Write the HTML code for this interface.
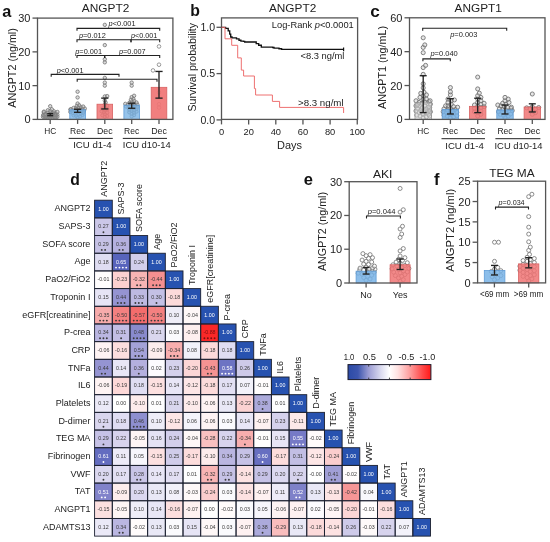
<!DOCTYPE html>
<html><head><meta charset="utf-8"><style>
html,body{margin:0;padding:0;background:#fff;}
svg{display:block;font-family:"Liberation Sans", sans-serif;filter:blur(0.3px);}
</style></head><body>
<svg width="550" height="542" viewBox="0 0 550 542">
<rect width="550" height="542" fill="#fff"/>
<text x="2.20" y="16.50" font-size="16.3" text-anchor="start" fill="#111" font-weight="bold">a</text>
<text x="105.60" y="12.40" font-size="11.2" text-anchor="middle" fill="#222" textLength="47.5" lengthAdjust="spacingAndGlyphs">ANGPT2</text>
<text x="16.20" y="67.90" font-size="10.2" text-anchor="middle" fill="#222" textLength="79.5" lengthAdjust="spacingAndGlyphs" transform="rotate(-90 16.20 67.90)">ANGPT2 (ng/ml)</text>
<circle cx="50.20" cy="118.05" r="1.7" fill="#b0b0b0" fill-opacity="0.45" stroke="#7a7a7a" stroke-width="0.85"/>
<circle cx="52.60" cy="117.71" r="1.7" fill="#b0b0b0" fill-opacity="0.45" stroke="#7a7a7a" stroke-width="0.85"/>
<circle cx="47.80" cy="117.37" r="1.7" fill="#b0b0b0" fill-opacity="0.45" stroke="#7a7a7a" stroke-width="0.85"/>
<circle cx="55.00" cy="117.37" r="1.7" fill="#b0b0b0" fill-opacity="0.45" stroke="#7a7a7a" stroke-width="0.85"/>
<circle cx="45.40" cy="117.04" r="1.7" fill="#b0b0b0" fill-opacity="0.45" stroke="#7a7a7a" stroke-width="0.85"/>
<circle cx="57.40" cy="116.70" r="1.7" fill="#b0b0b0" fill-opacity="0.45" stroke="#7a7a7a" stroke-width="0.85"/>
<circle cx="43.00" cy="116.70" r="1.7" fill="#b0b0b0" fill-opacity="0.45" stroke="#7a7a7a" stroke-width="0.85"/>
<circle cx="46.43" cy="116.36" r="1.7" fill="#b0b0b0" fill-opacity="0.45" stroke="#7a7a7a" stroke-width="0.85"/>
<circle cx="51.00" cy="116.02" r="1.7" fill="#b0b0b0" fill-opacity="0.45" stroke="#7a7a7a" stroke-width="0.85"/>
<circle cx="50.84" cy="116.02" r="1.7" fill="#b0b0b0" fill-opacity="0.45" stroke="#7a7a7a" stroke-width="0.85"/>
<circle cx="48.33" cy="116.02" r="1.7" fill="#b0b0b0" fill-opacity="0.45" stroke="#7a7a7a" stroke-width="0.85"/>
<circle cx="53.40" cy="115.69" r="1.7" fill="#b0b0b0" fill-opacity="0.45" stroke="#7a7a7a" stroke-width="0.85"/>
<circle cx="51.70" cy="115.69" r="1.7" fill="#b0b0b0" fill-opacity="0.45" stroke="#7a7a7a" stroke-width="0.85"/>
<circle cx="52.01" cy="115.35" r="1.7" fill="#b0b0b0" fill-opacity="0.45" stroke="#7a7a7a" stroke-width="0.85"/>
<circle cx="43.94" cy="115.35" r="1.7" fill="#b0b0b0" fill-opacity="0.45" stroke="#7a7a7a" stroke-width="0.85"/>
<circle cx="55.80" cy="115.01" r="1.7" fill="#b0b0b0" fill-opacity="0.45" stroke="#7a7a7a" stroke-width="0.85"/>
<circle cx="43.19" cy="115.01" r="1.7" fill="#b0b0b0" fill-opacity="0.45" stroke="#7a7a7a" stroke-width="0.85"/>
<circle cx="55.06" cy="115.01" r="1.7" fill="#b0b0b0" fill-opacity="0.45" stroke="#7a7a7a" stroke-width="0.85"/>
<circle cx="46.73" cy="114.67" r="1.7" fill="#b0b0b0" fill-opacity="0.45" stroke="#7a7a7a" stroke-width="0.85"/>
<circle cx="46.37" cy="114.67" r="1.7" fill="#b0b0b0" fill-opacity="0.45" stroke="#7a7a7a" stroke-width="0.85"/>
<circle cx="57.34" cy="114.67" r="1.7" fill="#b0b0b0" fill-opacity="0.45" stroke="#7a7a7a" stroke-width="0.85"/>
<circle cx="49.77" cy="114.34" r="1.7" fill="#b0b0b0" fill-opacity="0.45" stroke="#7a7a7a" stroke-width="0.85"/>
<circle cx="55.05" cy="114.34" r="1.7" fill="#b0b0b0" fill-opacity="0.45" stroke="#7a7a7a" stroke-width="0.85"/>
<circle cx="49.86" cy="114.00" r="1.7" fill="#b0b0b0" fill-opacity="0.45" stroke="#7a7a7a" stroke-width="0.85"/>
<circle cx="52.20" cy="114.00" r="1.7" fill="#b0b0b0" fill-opacity="0.45" stroke="#7a7a7a" stroke-width="0.85"/>
<circle cx="45.17" cy="114.00" r="1.7" fill="#b0b0b0" fill-opacity="0.45" stroke="#7a7a7a" stroke-width="0.85"/>
<circle cx="52.14" cy="113.66" r="1.7" fill="#b0b0b0" fill-opacity="0.45" stroke="#7a7a7a" stroke-width="0.85"/>
<circle cx="55.50" cy="113.32" r="1.7" fill="#b0b0b0" fill-opacity="0.45" stroke="#7a7a7a" stroke-width="0.85"/>
<circle cx="50.53" cy="113.32" r="1.7" fill="#b0b0b0" fill-opacity="0.45" stroke="#7a7a7a" stroke-width="0.85"/>
<circle cx="53.67" cy="112.98" r="1.7" fill="#b0b0b0" fill-opacity="0.45" stroke="#7a7a7a" stroke-width="0.85"/>
<circle cx="52.67" cy="112.98" r="1.7" fill="#b0b0b0" fill-opacity="0.45" stroke="#7a7a7a" stroke-width="0.85"/>
<circle cx="47.80" cy="112.65" r="1.7" fill="#b0b0b0" fill-opacity="0.45" stroke="#7a7a7a" stroke-width="0.85"/>
<circle cx="43.80" cy="112.31" r="1.7" fill="#b0b0b0" fill-opacity="0.45" stroke="#7a7a7a" stroke-width="0.85"/>
<circle cx="57.40" cy="111.97" r="1.7" fill="#b0b0b0" fill-opacity="0.45" stroke="#7a7a7a" stroke-width="0.85"/>
<circle cx="43.92" cy="111.63" r="1.7" fill="#b0b0b0" fill-opacity="0.45" stroke="#7a7a7a" stroke-width="0.85"/>
<circle cx="53.92" cy="111.30" r="1.7" fill="#b0b0b0" fill-opacity="0.45" stroke="#7a7a7a" stroke-width="0.85"/>
<circle cx="50.20" cy="110.96" r="1.7" fill="#b0b0b0" fill-opacity="0.45" stroke="#7a7a7a" stroke-width="0.85"/>
<circle cx="47.80" cy="110.28" r="1.7" fill="#b0b0b0" fill-opacity="0.45" stroke="#7a7a7a" stroke-width="0.85"/>
<circle cx="51.80" cy="109.27" r="1.7" fill="#b0b0b0" fill-opacity="0.45" stroke="#7a7a7a" stroke-width="0.85"/>
<circle cx="50.20" cy="106.23" r="1.7" fill="#b0b0b0" fill-opacity="0.45" stroke="#7a7a7a" stroke-width="0.85"/>
<circle cx="77.60" cy="117.37" r="1.7" fill="#b0b0b0" fill-opacity="0.45" stroke="#7a7a7a" stroke-width="0.85"/>
<circle cx="80.00" cy="116.36" r="1.7" fill="#b0b0b0" fill-opacity="0.45" stroke="#7a7a7a" stroke-width="0.85"/>
<circle cx="76.00" cy="115.69" r="1.7" fill="#b0b0b0" fill-opacity="0.45" stroke="#7a7a7a" stroke-width="0.85"/>
<circle cx="73.60" cy="115.35" r="1.7" fill="#b0b0b0" fill-opacity="0.45" stroke="#7a7a7a" stroke-width="0.85"/>
<circle cx="82.40" cy="115.01" r="1.7" fill="#b0b0b0" fill-opacity="0.45" stroke="#7a7a7a" stroke-width="0.85"/>
<circle cx="78.40" cy="114.34" r="1.7" fill="#b0b0b0" fill-opacity="0.45" stroke="#7a7a7a" stroke-width="0.85"/>
<circle cx="75.20" cy="113.66" r="1.7" fill="#b0b0b0" fill-opacity="0.45" stroke="#7a7a7a" stroke-width="0.85"/>
<circle cx="80.80" cy="113.32" r="1.7" fill="#b0b0b0" fill-opacity="0.45" stroke="#7a7a7a" stroke-width="0.85"/>
<circle cx="72.80" cy="112.98" r="1.7" fill="#b0b0b0" fill-opacity="0.45" stroke="#7a7a7a" stroke-width="0.85"/>
<circle cx="83.20" cy="112.65" r="1.7" fill="#b0b0b0" fill-opacity="0.45" stroke="#7a7a7a" stroke-width="0.85"/>
<circle cx="77.60" cy="112.31" r="1.7" fill="#b0b0b0" fill-opacity="0.45" stroke="#7a7a7a" stroke-width="0.85"/>
<circle cx="70.40" cy="111.97" r="1.7" fill="#b0b0b0" fill-opacity="0.45" stroke="#7a7a7a" stroke-width="0.85"/>
<circle cx="78.91" cy="111.63" r="1.7" fill="#b0b0b0" fill-opacity="0.45" stroke="#7a7a7a" stroke-width="0.85"/>
<circle cx="75.20" cy="111.30" r="1.7" fill="#b0b0b0" fill-opacity="0.45" stroke="#7a7a7a" stroke-width="0.85"/>
<circle cx="81.60" cy="110.96" r="1.7" fill="#b0b0b0" fill-opacity="0.45" stroke="#7a7a7a" stroke-width="0.85"/>
<circle cx="72.80" cy="110.62" r="1.7" fill="#b0b0b0" fill-opacity="0.45" stroke="#7a7a7a" stroke-width="0.85"/>
<circle cx="84.00" cy="110.62" r="1.7" fill="#b0b0b0" fill-opacity="0.45" stroke="#7a7a7a" stroke-width="0.85"/>
<circle cx="74.74" cy="110.28" r="1.7" fill="#b0b0b0" fill-opacity="0.45" stroke="#7a7a7a" stroke-width="0.85"/>
<circle cx="77.60" cy="109.95" r="1.7" fill="#b0b0b0" fill-opacity="0.45" stroke="#7a7a7a" stroke-width="0.85"/>
<circle cx="70.40" cy="109.61" r="1.7" fill="#b0b0b0" fill-opacity="0.45" stroke="#7a7a7a" stroke-width="0.85"/>
<circle cx="80.00" cy="109.27" r="1.7" fill="#b0b0b0" fill-opacity="0.45" stroke="#7a7a7a" stroke-width="0.85"/>
<circle cx="70.85" cy="109.27" r="1.7" fill="#b0b0b0" fill-opacity="0.45" stroke="#7a7a7a" stroke-width="0.85"/>
<circle cx="82.40" cy="108.93" r="1.7" fill="#b0b0b0" fill-opacity="0.45" stroke="#7a7a7a" stroke-width="0.85"/>
<circle cx="84.80" cy="108.59" r="1.7" fill="#b0b0b0" fill-opacity="0.45" stroke="#7a7a7a" stroke-width="0.85"/>
<circle cx="76.00" cy="108.26" r="1.7" fill="#b0b0b0" fill-opacity="0.45" stroke="#7a7a7a" stroke-width="0.85"/>
<circle cx="73.60" cy="107.92" r="1.7" fill="#b0b0b0" fill-opacity="0.45" stroke="#7a7a7a" stroke-width="0.85"/>
<circle cx="78.40" cy="107.58" r="1.7" fill="#b0b0b0" fill-opacity="0.45" stroke="#7a7a7a" stroke-width="0.85"/>
<circle cx="80.80" cy="107.24" r="1.7" fill="#b0b0b0" fill-opacity="0.45" stroke="#7a7a7a" stroke-width="0.85"/>
<circle cx="83.20" cy="106.57" r="1.7" fill="#b0b0b0" fill-opacity="0.45" stroke="#7a7a7a" stroke-width="0.85"/>
<circle cx="76.80" cy="105.89" r="1.7" fill="#b0b0b0" fill-opacity="0.45" stroke="#7a7a7a" stroke-width="0.85"/>
<circle cx="79.20" cy="105.22" r="1.7" fill="#b0b0b0" fill-opacity="0.45" stroke="#7a7a7a" stroke-width="0.85"/>
<circle cx="77.60" cy="103.53" r="1.7" fill="#b0b0b0" fill-opacity="0.45" stroke="#7a7a7a" stroke-width="0.85"/>
<circle cx="77.60" cy="97.45" r="1.7" fill="#b0b0b0" fill-opacity="0.45" stroke="#7a7a7a" stroke-width="0.85"/>
<circle cx="77.60" cy="91.71" r="1.7" fill="#b0b0b0" fill-opacity="0.45" stroke="#7a7a7a" stroke-width="0.85"/>
<circle cx="104.80" cy="116.70" r="1.7" fill="#b0b0b0" fill-opacity="0.45" stroke="#7a7a7a" stroke-width="0.85"/>
<circle cx="107.20" cy="116.02" r="1.7" fill="#b0b0b0" fill-opacity="0.45" stroke="#7a7a7a" stroke-width="0.85"/>
<circle cx="102.40" cy="115.35" r="1.7" fill="#b0b0b0" fill-opacity="0.45" stroke="#7a7a7a" stroke-width="0.85"/>
<circle cx="104.80" cy="114.00" r="1.7" fill="#b0b0b0" fill-opacity="0.45" stroke="#7a7a7a" stroke-width="0.85"/>
<circle cx="107.20" cy="112.65" r="1.7" fill="#b0b0b0" fill-opacity="0.45" stroke="#7a7a7a" stroke-width="0.85"/>
<circle cx="104.00" cy="111.97" r="1.7" fill="#b0b0b0" fill-opacity="0.45" stroke="#7a7a7a" stroke-width="0.85"/>
<circle cx="101.60" cy="111.30" r="1.7" fill="#b0b0b0" fill-opacity="0.45" stroke="#7a7a7a" stroke-width="0.85"/>
<circle cx="104.80" cy="109.95" r="1.7" fill="#b0b0b0" fill-opacity="0.45" stroke="#7a7a7a" stroke-width="0.85"/>
<circle cx="107.20" cy="109.27" r="1.7" fill="#b0b0b0" fill-opacity="0.45" stroke="#7a7a7a" stroke-width="0.85"/>
<circle cx="102.40" cy="108.59" r="1.7" fill="#b0b0b0" fill-opacity="0.45" stroke="#7a7a7a" stroke-width="0.85"/>
<circle cx="104.80" cy="107.24" r="1.7" fill="#b0b0b0" fill-opacity="0.45" stroke="#7a7a7a" stroke-width="0.85"/>
<circle cx="107.20" cy="105.89" r="1.7" fill="#b0b0b0" fill-opacity="0.45" stroke="#7a7a7a" stroke-width="0.85"/>
<circle cx="104.80" cy="104.54" r="1.7" fill="#b0b0b0" fill-opacity="0.45" stroke="#7a7a7a" stroke-width="0.85"/>
<circle cx="105.60" cy="102.52" r="1.7" fill="#b0b0b0" fill-opacity="0.45" stroke="#7a7a7a" stroke-width="0.85"/>
<circle cx="104.80" cy="100.49" r="1.7" fill="#b0b0b0" fill-opacity="0.45" stroke="#7a7a7a" stroke-width="0.85"/>
<circle cx="104.80" cy="96.44" r="1.7" fill="#b0b0b0" fill-opacity="0.45" stroke="#7a7a7a" stroke-width="0.85"/>
<circle cx="107.20" cy="96.10" r="1.7" fill="#b0b0b0" fill-opacity="0.45" stroke="#7a7a7a" stroke-width="0.85"/>
<circle cx="104.80" cy="85.63" r="1.7" fill="#b0b0b0" fill-opacity="0.45" stroke="#7a7a7a" stroke-width="0.85"/>
<circle cx="104.80" cy="82.59" r="1.7" fill="#b0b0b0" fill-opacity="0.45" stroke="#7a7a7a" stroke-width="0.85"/>
<circle cx="104.80" cy="77.87" r="1.7" fill="#b0b0b0" fill-opacity="0.45" stroke="#7a7a7a" stroke-width="0.85"/>
<circle cx="104.80" cy="62.33" r="1.7" fill="#b0b0b0" fill-opacity="0.45" stroke="#7a7a7a" stroke-width="0.85"/>
<circle cx="104.80" cy="59.30" r="1.7" fill="#b0b0b0" fill-opacity="0.45" stroke="#7a7a7a" stroke-width="0.85"/>
<circle cx="104.80" cy="45.11" r="1.7" fill="#b0b0b0" fill-opacity="0.45" stroke="#7a7a7a" stroke-width="0.85"/>
<circle cx="104.80" cy="24.85" r="1.7" fill="#b0b0b0" fill-opacity="0.45" stroke="#7a7a7a" stroke-width="0.85"/>
<circle cx="131.70" cy="116.36" r="1.7" fill="#b0b0b0" fill-opacity="0.45" stroke="#7a7a7a" stroke-width="0.85"/>
<circle cx="134.10" cy="115.01" r="1.7" fill="#b0b0b0" fill-opacity="0.45" stroke="#7a7a7a" stroke-width="0.85"/>
<circle cx="131.70" cy="113.66" r="1.7" fill="#b0b0b0" fill-opacity="0.45" stroke="#7a7a7a" stroke-width="0.85"/>
<circle cx="134.10" cy="112.65" r="1.7" fill="#b0b0b0" fill-opacity="0.45" stroke="#7a7a7a" stroke-width="0.85"/>
<circle cx="129.30" cy="112.31" r="1.7" fill="#b0b0b0" fill-opacity="0.45" stroke="#7a7a7a" stroke-width="0.85"/>
<circle cx="136.50" cy="111.63" r="1.7" fill="#b0b0b0" fill-opacity="0.45" stroke="#7a7a7a" stroke-width="0.85"/>
<circle cx="131.70" cy="110.62" r="1.7" fill="#b0b0b0" fill-opacity="0.45" stroke="#7a7a7a" stroke-width="0.85"/>
<circle cx="134.10" cy="110.28" r="1.7" fill="#b0b0b0" fill-opacity="0.45" stroke="#7a7a7a" stroke-width="0.85"/>
<circle cx="129.30" cy="109.61" r="1.7" fill="#b0b0b0" fill-opacity="0.45" stroke="#7a7a7a" stroke-width="0.85"/>
<circle cx="136.50" cy="108.93" r="1.7" fill="#b0b0b0" fill-opacity="0.45" stroke="#7a7a7a" stroke-width="0.85"/>
<circle cx="131.70" cy="108.26" r="1.7" fill="#b0b0b0" fill-opacity="0.45" stroke="#7a7a7a" stroke-width="0.85"/>
<circle cx="134.10" cy="107.92" r="1.7" fill="#b0b0b0" fill-opacity="0.45" stroke="#7a7a7a" stroke-width="0.85"/>
<circle cx="128.50" cy="107.58" r="1.7" fill="#b0b0b0" fill-opacity="0.45" stroke="#7a7a7a" stroke-width="0.85"/>
<circle cx="137.30" cy="106.91" r="1.7" fill="#b0b0b0" fill-opacity="0.45" stroke="#7a7a7a" stroke-width="0.85"/>
<circle cx="126.10" cy="106.57" r="1.7" fill="#b0b0b0" fill-opacity="0.45" stroke="#7a7a7a" stroke-width="0.85"/>
<circle cx="132.50" cy="106.23" r="1.7" fill="#b0b0b0" fill-opacity="0.45" stroke="#7a7a7a" stroke-width="0.85"/>
<circle cx="130.10" cy="105.89" r="1.7" fill="#b0b0b0" fill-opacity="0.45" stroke="#7a7a7a" stroke-width="0.85"/>
<circle cx="134.90" cy="105.56" r="1.7" fill="#b0b0b0" fill-opacity="0.45" stroke="#7a7a7a" stroke-width="0.85"/>
<circle cx="127.70" cy="104.88" r="1.7" fill="#b0b0b0" fill-opacity="0.45" stroke="#7a7a7a" stroke-width="0.85"/>
<circle cx="137.30" cy="104.54" r="1.7" fill="#b0b0b0" fill-opacity="0.45" stroke="#7a7a7a" stroke-width="0.85"/>
<circle cx="131.70" cy="104.21" r="1.7" fill="#b0b0b0" fill-opacity="0.45" stroke="#7a7a7a" stroke-width="0.85"/>
<circle cx="125.30" cy="103.87" r="1.7" fill="#b0b0b0" fill-opacity="0.45" stroke="#7a7a7a" stroke-width="0.85"/>
<circle cx="134.10" cy="103.53" r="1.7" fill="#b0b0b0" fill-opacity="0.45" stroke="#7a7a7a" stroke-width="0.85"/>
<circle cx="129.30" cy="102.85" r="1.7" fill="#b0b0b0" fill-opacity="0.45" stroke="#7a7a7a" stroke-width="0.85"/>
<circle cx="136.50" cy="102.52" r="1.7" fill="#b0b0b0" fill-opacity="0.45" stroke="#7a7a7a" stroke-width="0.85"/>
<circle cx="131.70" cy="101.84" r="1.7" fill="#b0b0b0" fill-opacity="0.45" stroke="#7a7a7a" stroke-width="0.85"/>
<circle cx="134.10" cy="100.83" r="1.7" fill="#b0b0b0" fill-opacity="0.45" stroke="#7a7a7a" stroke-width="0.85"/>
<circle cx="130.90" cy="99.82" r="1.7" fill="#b0b0b0" fill-opacity="0.45" stroke="#7a7a7a" stroke-width="0.85"/>
<circle cx="133.30" cy="98.80" r="1.7" fill="#b0b0b0" fill-opacity="0.45" stroke="#7a7a7a" stroke-width="0.85"/>
<circle cx="131.70" cy="97.11" r="1.7" fill="#b0b0b0" fill-opacity="0.45" stroke="#7a7a7a" stroke-width="0.85"/>
<circle cx="134.10" cy="95.76" r="1.7" fill="#b0b0b0" fill-opacity="0.45" stroke="#7a7a7a" stroke-width="0.85"/>
<circle cx="131.70" cy="85.63" r="1.7" fill="#b0b0b0" fill-opacity="0.45" stroke="#7a7a7a" stroke-width="0.85"/>
<circle cx="131.70" cy="82.59" r="1.7" fill="#b0b0b0" fill-opacity="0.45" stroke="#7a7a7a" stroke-width="0.85"/>
<circle cx="159.00" cy="107.58" r="1.8" fill="#ffffff" fill-opacity="0.2" stroke="#888" stroke-width="0.85"/>
<circle cx="159.00" cy="104.21" r="1.8" fill="#ffffff" fill-opacity="0.2" stroke="#888" stroke-width="0.85"/>
<circle cx="159.00" cy="92.39" r="1.8" fill="#ffffff" fill-opacity="0.2" stroke="#888" stroke-width="0.85"/>
<circle cx="159.00" cy="64.70" r="1.8" fill="#ffffff" fill-opacity="0.2" stroke="#888" stroke-width="0.85"/>
<circle cx="159.00" cy="46.46" r="1.8" fill="#ffffff" fill-opacity="0.2" stroke="#888" stroke-width="0.85"/>
<circle cx="153.00" cy="70.44" r="1.8" fill="#ffffff" fill-opacity="0.2" stroke="#888" stroke-width="0.85"/>
<rect x="69.80" y="109.78" width="15.60" height="9.62" fill="#78b3e6" fill-opacity="0.8" stroke="#5f9cd6" stroke-width="0.8"/>
<rect x="97.00" y="104.21" width="15.60" height="15.19" fill="#f07474" fill-opacity="0.85" stroke="#d86262" stroke-width="0.8"/>
<rect x="123.90" y="105.22" width="15.60" height="14.18" fill="#78b3e6" fill-opacity="0.78" stroke="#5f9cd6" stroke-width="0.8"/>
<rect x="151.20" y="87.32" width="15.60" height="32.08" fill="#f07474" fill-opacity="0.92" stroke="#d86262" stroke-width="0.8"/>
<rect x="42.40" y="114.67" width="15.6" height="4.73" fill="#8a8a8a" fill-opacity="0.75"/>
<line x1="50.20" y1="113.66" x2="50.20" y2="115.69" stroke="#222" stroke-width="1.35"/>
<line x1="47.20" y1="113.66" x2="53.20" y2="113.66" stroke="#222" stroke-width="1.35"/>
<line x1="47.20" y1="115.69" x2="53.20" y2="115.69" stroke="#222" stroke-width="1.35"/>
<line x1="77.60" y1="109.27" x2="77.60" y2="112.31" stroke="#222" stroke-width="1.35"/>
<line x1="74.00" y1="109.27" x2="81.20" y2="109.27" stroke="#222" stroke-width="1.35"/>
<line x1="74.00" y1="112.31" x2="81.20" y2="112.31" stroke="#222" stroke-width="1.35"/>
<line x1="104.80" y1="98.13" x2="104.80" y2="108.93" stroke="#222" stroke-width="1.35"/>
<line x1="101.20" y1="98.13" x2="108.40" y2="98.13" stroke="#222" stroke-width="1.35"/>
<line x1="101.20" y1="108.93" x2="108.40" y2="108.93" stroke="#222" stroke-width="1.35"/>
<line x1="131.70" y1="103.19" x2="131.70" y2="108.26" stroke="#222" stroke-width="1.35"/>
<line x1="128.10" y1="103.19" x2="135.30" y2="103.19" stroke="#222" stroke-width="1.35"/>
<line x1="128.10" y1="108.26" x2="135.30" y2="108.26" stroke="#222" stroke-width="1.35"/>
<line x1="159.00" y1="71.45" x2="159.00" y2="98.13" stroke="#222" stroke-width="1.35"/>
<line x1="155.40" y1="71.45" x2="162.60" y2="71.45" stroke="#222" stroke-width="1.35"/>
<line x1="155.40" y1="98.13" x2="162.60" y2="98.13" stroke="#222" stroke-width="1.35"/>
<rect x="37.50" y="18.10" width="135.40" height="101.30" fill="none" stroke="#555" stroke-width="1.3"/>
<line x1="32.50" y1="119.40" x2="37.50" y2="119.40" stroke="#555" stroke-width="1.3"/>
<text x="30.50" y="123.40" font-size="11" text-anchor="end" fill="#222">0</text>
<line x1="32.50" y1="85.63" x2="37.50" y2="85.63" stroke="#555" stroke-width="1.3"/>
<text x="30.50" y="89.63" font-size="11" text-anchor="end" fill="#222">10</text>
<line x1="32.50" y1="51.87" x2="37.50" y2="51.87" stroke="#555" stroke-width="1.3"/>
<text x="30.50" y="55.87" font-size="11" text-anchor="end" fill="#222">20</text>
<line x1="32.50" y1="18.10" x2="37.50" y2="18.10" stroke="#555" stroke-width="1.3"/>
<text x="30.50" y="22.10" font-size="11" text-anchor="end" fill="#222">30</text>
<line x1="50.20" y1="119.40" x2="50.20" y2="123.90" stroke="#555" stroke-width="1.3"/>
<line x1="77.60" y1="119.40" x2="77.60" y2="123.90" stroke="#555" stroke-width="1.3"/>
<line x1="104.80" y1="119.40" x2="104.80" y2="123.90" stroke="#555" stroke-width="1.3"/>
<line x1="131.70" y1="119.40" x2="131.70" y2="123.90" stroke="#555" stroke-width="1.3"/>
<line x1="159.00" y1="119.40" x2="159.00" y2="123.90" stroke="#555" stroke-width="1.3"/>
<text x="50.20" y="133.80" font-size="8.3" text-anchor="middle" fill="#222" textLength="12.0" lengthAdjust="spacingAndGlyphs">HC</text>
<text x="77.60" y="133.80" font-size="8.3" text-anchor="middle" fill="#222" textLength="15.2" lengthAdjust="spacingAndGlyphs">Rec</text>
<text x="104.80" y="133.80" font-size="8.3" text-anchor="middle" fill="#222" textLength="15.6" lengthAdjust="spacingAndGlyphs">Dec</text>
<text x="131.70" y="133.80" font-size="8.3" text-anchor="middle" fill="#222" textLength="15.2" lengthAdjust="spacingAndGlyphs">Rec</text>
<text x="159.00" y="133.80" font-size="8.3" text-anchor="middle" fill="#222" textLength="15.6" lengthAdjust="spacingAndGlyphs">Dec</text>
<line x1="68.70" y1="138.40" x2="112.80" y2="138.40" stroke="#222" stroke-width="1.0"/>
<line x1="122.80" y1="138.40" x2="167.00" y2="138.40" stroke="#222" stroke-width="1.0"/>
<text x="92.40" y="148.20" font-size="8.7" text-anchor="middle" fill="#222" textLength="38.5" lengthAdjust="spacingAndGlyphs">ICU d1-4</text>
<text x="146.80" y="148.20" font-size="8.7" text-anchor="middle" fill="#222" textLength="48" lengthAdjust="spacingAndGlyphs">ICU d10-14</text>
<path d="M77.00,30.80 L77.00,28.40 L159.70,28.40 L159.70,30.80" fill="none" stroke="#222" stroke-width="1.1"/>
<text x="108.60" y="25.90" font-size="7.2" text-anchor="start" fill="#222" textLength="27" lengthAdjust="spacingAndGlyphs"><tspan font-style="italic">p</tspan>&lt;0.001</text>
<path d="M77.00,42.20 L77.00,39.80 L131.00,39.80 L131.00,42.20" fill="none" stroke="#222" stroke-width="1.1"/>
<path d="M131.00,42.20 L131.00,39.80 L159.70,39.80 L159.70,42.20" fill="none" stroke="#222" stroke-width="1.1"/>
<text x="79.00" y="38.00" font-size="7.2" text-anchor="start" fill="#222" textLength="26.8" lengthAdjust="spacingAndGlyphs"><tspan font-style="italic">p</tspan>=0.012</text>
<text x="131.00" y="38.00" font-size="7.2" text-anchor="start" fill="#222" textLength="26.3" lengthAdjust="spacingAndGlyphs"><tspan font-style="italic">p</tspan>&lt;0.001</text>
<path d="M77.00,57.90 L77.00,55.50 L104.70,55.50 L104.70,57.90" fill="none" stroke="#222" stroke-width="1.1"/>
<path d="M104.70,57.90 L104.70,55.50 L159.70,55.50 L159.70,57.90" fill="none" stroke="#222" stroke-width="1.1"/>
<text x="75.30" y="54.30" font-size="7.2" text-anchor="start" fill="#222" textLength="26.7" lengthAdjust="spacingAndGlyphs"><tspan font-style="italic">p</tspan>=0.001</text>
<text x="119.00" y="54.30" font-size="7.2" text-anchor="start" fill="#222" textLength="26.7" lengthAdjust="spacingAndGlyphs"><tspan font-style="italic">p</tspan>=0.007</text>
<path d="M51.20,76.80 L51.20,74.40 L119.00,74.40 L119.00,76.80" fill="none" stroke="#222" stroke-width="1.1"/>
<text x="56.70" y="72.80" font-size="7.2" text-anchor="start" fill="#222" textLength="26.8" lengthAdjust="spacingAndGlyphs"><tspan font-style="italic">p</tspan>&lt;0.001</text>
<path d="M77.20,81.70 L77.20,79.30 L157.00,79.30 L157.00,81.70" fill="none" stroke="#222" stroke-width="1.1"/>
<text x="190.20" y="16.40" font-size="15.8" text-anchor="start" fill="#111" font-weight="bold">b</text>
<text x="292.60" y="12.40" font-size="11.2" text-anchor="middle" fill="#222" textLength="47.3" lengthAdjust="spacingAndGlyphs">ANGPT2</text>
<rect x="221.50" y="17.90" width="136.10" height="101.50" fill="none" stroke="#555" stroke-width="1.3"/>
<line x1="216.50" y1="119.90" x2="221.50" y2="119.90" stroke="#555" stroke-width="1.3"/>
<text x="215.00" y="123.50" font-size="10" text-anchor="end" fill="#222" textLength="14.6" lengthAdjust="spacingAndGlyphs">0.0</text>
<line x1="216.50" y1="73.60" x2="221.50" y2="73.60" stroke="#555" stroke-width="1.3"/>
<text x="215.00" y="77.20" font-size="10" text-anchor="end" fill="#222" textLength="14.6" lengthAdjust="spacingAndGlyphs">0.5</text>
<line x1="216.50" y1="27.30" x2="221.50" y2="27.30" stroke="#555" stroke-width="1.3"/>
<text x="215.00" y="30.90" font-size="10" text-anchor="end" fill="#222" textLength="14.6" lengthAdjust="spacingAndGlyphs">1.0</text>
<line x1="221.50" y1="119.40" x2="221.50" y2="124.40" stroke="#555" stroke-width="1.3"/>
<text x="221.50" y="134.50" font-size="9.3" text-anchor="middle" fill="#222">0</text>
<line x1="248.65" y1="119.40" x2="248.65" y2="124.40" stroke="#555" stroke-width="1.3"/>
<text x="248.65" y="134.50" font-size="9.3" text-anchor="middle" fill="#222">20</text>
<line x1="275.80" y1="119.40" x2="275.80" y2="124.40" stroke="#555" stroke-width="1.3"/>
<text x="275.80" y="134.50" font-size="9.3" text-anchor="middle" fill="#222">40</text>
<line x1="302.95" y1="119.40" x2="302.95" y2="124.40" stroke="#555" stroke-width="1.3"/>
<text x="302.95" y="134.50" font-size="9.3" text-anchor="middle" fill="#222">60</text>
<line x1="330.10" y1="119.40" x2="330.10" y2="124.40" stroke="#555" stroke-width="1.3"/>
<text x="330.10" y="134.50" font-size="9.3" text-anchor="middle" fill="#222">80</text>
<line x1="357.25" y1="119.40" x2="357.25" y2="124.40" stroke="#555" stroke-width="1.3"/>
<text x="357.25" y="134.50" font-size="9.3" text-anchor="middle" fill="#222">100</text>
<text x="289.50" y="149.00" font-size="11.2" text-anchor="middle" fill="#222" textLength="25" lengthAdjust="spacingAndGlyphs">Days</text>
<text x="196.50" y="67.20" font-size="10.4" text-anchor="middle" fill="#222" textLength="88.5" lengthAdjust="spacingAndGlyphs" transform="rotate(-90 196.50 67.20)">Survival probability</text>
<polyline points="221.5,27.3 223.7,27.3 223.7,27.3 225.6,27.3 225.6,28.4 228.2,28.4 228.2,30.9 229.7,30.9 229.7,34.1 230.7,34.1 230.7,37.0 232.0,37.0 232.0,37.9 234.5,37.9 234.5,37.9 236.5,37.9 236.5,38.9 239.0,38.9 239.0,40.2 240.9,40.2 240.9,41.1 243.5,41.1 243.5,41.3 244.7,41.3 244.7,42.0 254.9,42.0 254.9,42.0 256.2,42.0 256.2,43.6 258.7,43.6 258.7,45.2 261.3,45.2 261.3,47.1 272.7,47.1 272.7,47.5 274.0,47.5 274.0,48.1 279.0,48.1 279.0,48.7 281.6,48.7 281.6,49.4 343.6,49.4 343.6,49.4" fill="none" stroke="#111" stroke-width="1.35"/>
<line x1="343.60" y1="47.60" x2="343.60" y2="51.20" stroke="#111" stroke-width="1.2"/>
<polyline points="221.5,27.3 225.0,27.3 225.0,38.8 231.7,38.8 231.7,45.3 237.7,45.3 237.7,57.9 241.3,57.9 241.3,70.1 243.6,70.1 243.6,76.0 254.4,76.0 254.4,88.6 255.6,88.6 255.6,95.0 272.4,95.0 272.4,101.4 279.6,101.4 279.6,107.4 343.6,107.4 343.6,113.0" fill="none" stroke="#ee7070" stroke-width="1.0"/>
<text x="271.8" y="27.9" font-size="9.6" fill="#222" textLength="82" lengthAdjust="spacingAndGlyphs">Log-Rank <tspan font-style="italic">p</tspan>&lt;0.0001</text>
<text x="300.50" y="59.20" font-size="9.4" text-anchor="start" fill="#222" textLength="43.9" lengthAdjust="spacingAndGlyphs">&lt;8.3 ng/ml</text>
<text x="298.00" y="105.50" font-size="9.4" text-anchor="start" fill="#222" textLength="45.6" lengthAdjust="spacingAndGlyphs">&gt;8.3 ng/ml</text>
<text x="370.30" y="16.60" font-size="17.2" text-anchor="start" fill="#111" font-weight="bold">c</text>
<text x="478.20" y="12.40" font-size="11.2" text-anchor="middle" fill="#222" textLength="47.3" lengthAdjust="spacingAndGlyphs">ANGPT1</text>
<text x="386.20" y="67.50" font-size="10.2" text-anchor="middle" fill="#222" textLength="83" lengthAdjust="spacingAndGlyphs" transform="rotate(-90 386.20 67.50)">ANGPT1 (ng/mL)</text>
<circle cx="423.20" cy="117.71" r="2.05" fill="#c8c8c8" fill-opacity="0.45" stroke="#6e6e6e" stroke-width="0.85"/>
<circle cx="426.40" cy="116.86" r="2.05" fill="#c8c8c8" fill-opacity="0.45" stroke="#6e6e6e" stroke-width="0.85"/>
<circle cx="420.00" cy="116.01" r="2.05" fill="#c8c8c8" fill-opacity="0.45" stroke="#6e6e6e" stroke-width="0.85"/>
<circle cx="429.60" cy="116.01" r="2.05" fill="#c8c8c8" fill-opacity="0.45" stroke="#6e6e6e" stroke-width="0.85"/>
<circle cx="416.80" cy="115.17" r="2.05" fill="#c8c8c8" fill-opacity="0.45" stroke="#6e6e6e" stroke-width="0.85"/>
<circle cx="423.20" cy="114.32" r="2.05" fill="#c8c8c8" fill-opacity="0.45" stroke="#6e6e6e" stroke-width="0.85"/>
<circle cx="428.61" cy="114.32" r="2.05" fill="#c8c8c8" fill-opacity="0.45" stroke="#6e6e6e" stroke-width="0.85"/>
<circle cx="422.80" cy="113.47" r="2.05" fill="#c8c8c8" fill-opacity="0.45" stroke="#6e6e6e" stroke-width="0.85"/>
<circle cx="419.20" cy="112.63" r="2.05" fill="#c8c8c8" fill-opacity="0.45" stroke="#6e6e6e" stroke-width="0.85"/>
<circle cx="426.44" cy="112.63" r="2.05" fill="#c8c8c8" fill-opacity="0.45" stroke="#6e6e6e" stroke-width="0.85"/>
<circle cx="430.40" cy="111.78" r="2.05" fill="#c8c8c8" fill-opacity="0.45" stroke="#6e6e6e" stroke-width="0.85"/>
<circle cx="416.00" cy="110.93" r="2.05" fill="#c8c8c8" fill-opacity="0.45" stroke="#6e6e6e" stroke-width="0.85"/>
<circle cx="428.81" cy="110.93" r="2.05" fill="#c8c8c8" fill-opacity="0.45" stroke="#6e6e6e" stroke-width="0.85"/>
<circle cx="424.00" cy="110.59" r="2.05" fill="#c8c8c8" fill-opacity="0.45" stroke="#6e6e6e" stroke-width="0.85"/>
<circle cx="420.80" cy="110.09" r="2.05" fill="#c8c8c8" fill-opacity="0.45" stroke="#6e6e6e" stroke-width="0.85"/>
<circle cx="426.37" cy="109.24" r="2.05" fill="#c8c8c8" fill-opacity="0.45" stroke="#6e6e6e" stroke-width="0.85"/>
<circle cx="429.43" cy="109.24" r="2.05" fill="#c8c8c8" fill-opacity="0.45" stroke="#6e6e6e" stroke-width="0.85"/>
<circle cx="421.65" cy="108.73" r="2.05" fill="#c8c8c8" fill-opacity="0.45" stroke="#6e6e6e" stroke-width="0.85"/>
<circle cx="417.60" cy="108.39" r="2.05" fill="#c8c8c8" fill-opacity="0.45" stroke="#6e6e6e" stroke-width="0.85"/>
<circle cx="427.65" cy="107.55" r="2.05" fill="#c8c8c8" fill-opacity="0.45" stroke="#6e6e6e" stroke-width="0.85"/>
<circle cx="422.38" cy="107.55" r="2.05" fill="#c8c8c8" fill-opacity="0.45" stroke="#6e6e6e" stroke-width="0.85"/>
<circle cx="429.65" cy="107.38" r="2.05" fill="#c8c8c8" fill-opacity="0.45" stroke="#6e6e6e" stroke-width="0.85"/>
<circle cx="428.81" cy="106.70" r="2.05" fill="#c8c8c8" fill-opacity="0.45" stroke="#6e6e6e" stroke-width="0.85"/>
<circle cx="419.20" cy="105.85" r="2.05" fill="#c8c8c8" fill-opacity="0.45" stroke="#6e6e6e" stroke-width="0.85"/>
<circle cx="416.00" cy="105.85" r="2.05" fill="#c8c8c8" fill-opacity="0.45" stroke="#6e6e6e" stroke-width="0.85"/>
<circle cx="424.80" cy="105.51" r="2.05" fill="#c8c8c8" fill-opacity="0.45" stroke="#6e6e6e" stroke-width="0.85"/>
<circle cx="417.24" cy="105.01" r="2.05" fill="#c8c8c8" fill-opacity="0.45" stroke="#6e6e6e" stroke-width="0.85"/>
<circle cx="430.40" cy="104.16" r="2.05" fill="#c8c8c8" fill-opacity="0.45" stroke="#6e6e6e" stroke-width="0.85"/>
<circle cx="417.81" cy="104.16" r="2.05" fill="#c8c8c8" fill-opacity="0.45" stroke="#6e6e6e" stroke-width="0.85"/>
<circle cx="422.40" cy="103.31" r="2.05" fill="#c8c8c8" fill-opacity="0.45" stroke="#6e6e6e" stroke-width="0.85"/>
<circle cx="425.60" cy="102.47" r="2.05" fill="#c8c8c8" fill-opacity="0.45" stroke="#6e6e6e" stroke-width="0.85"/>
<circle cx="419.01" cy="102.47" r="2.05" fill="#c8c8c8" fill-opacity="0.45" stroke="#6e6e6e" stroke-width="0.85"/>
<circle cx="428.80" cy="101.62" r="2.05" fill="#c8c8c8" fill-opacity="0.45" stroke="#6e6e6e" stroke-width="0.85"/>
<circle cx="416.00" cy="100.77" r="2.05" fill="#c8c8c8" fill-opacity="0.45" stroke="#6e6e6e" stroke-width="0.85"/>
<circle cx="430.09" cy="100.77" r="2.05" fill="#c8c8c8" fill-opacity="0.45" stroke="#6e6e6e" stroke-width="0.85"/>
<circle cx="423.20" cy="99.08" r="2.05" fill="#c8c8c8" fill-opacity="0.45" stroke="#6e6e6e" stroke-width="0.85"/>
<circle cx="426.40" cy="99.08" r="2.05" fill="#c8c8c8" fill-opacity="0.45" stroke="#6e6e6e" stroke-width="0.85"/>
<circle cx="420.00" cy="97.39" r="2.05" fill="#c8c8c8" fill-opacity="0.45" stroke="#6e6e6e" stroke-width="0.85"/>
<circle cx="423.20" cy="95.69" r="2.05" fill="#c8c8c8" fill-opacity="0.45" stroke="#6e6e6e" stroke-width="0.85"/>
<circle cx="426.40" cy="94.85" r="2.05" fill="#c8c8c8" fill-opacity="0.45" stroke="#6e6e6e" stroke-width="0.85"/>
<circle cx="420.80" cy="93.32" r="2.05" fill="#c8c8c8" fill-opacity="0.45" stroke="#6e6e6e" stroke-width="0.85"/>
<circle cx="424.00" cy="92.31" r="2.05" fill="#c8c8c8" fill-opacity="0.45" stroke="#6e6e6e" stroke-width="0.85"/>
<circle cx="423.20" cy="87.90" r="2.05" fill="#c8c8c8" fill-opacity="0.45" stroke="#6e6e6e" stroke-width="0.85"/>
<circle cx="423.20" cy="83.84" r="2.05" fill="#c8c8c8" fill-opacity="0.45" stroke="#6e6e6e" stroke-width="0.85"/>
<circle cx="423.20" cy="74.36" r="2.05" fill="#c8c8c8" fill-opacity="0.45" stroke="#6e6e6e" stroke-width="0.85"/>
<circle cx="423.20" cy="67.58" r="2.05" fill="#c8c8c8" fill-opacity="0.45" stroke="#6e6e6e" stroke-width="0.85"/>
<circle cx="425.60" cy="65.38" r="2.05" fill="#c8c8c8" fill-opacity="0.45" stroke="#6e6e6e" stroke-width="0.85"/>
<circle cx="423.20" cy="52.68" r="2.05" fill="#c8c8c8" fill-opacity="0.45" stroke="#6e6e6e" stroke-width="0.85"/>
<circle cx="423.20" cy="47.43" r="2.05" fill="#c8c8c8" fill-opacity="0.45" stroke="#6e6e6e" stroke-width="0.85"/>
<circle cx="424.80" cy="44.89" r="2.05" fill="#c8c8c8" fill-opacity="0.45" stroke="#6e6e6e" stroke-width="0.85"/>
<circle cx="423.20" cy="37.78" r="2.05" fill="#c8c8c8" fill-opacity="0.45" stroke="#6e6e6e" stroke-width="0.85"/>
<circle cx="450.40" cy="117.71" r="2.05" fill="#c8c8c8" fill-opacity="0.45" stroke="#6e6e6e" stroke-width="0.85"/>
<circle cx="453.60" cy="116.86" r="2.05" fill="#c8c8c8" fill-opacity="0.45" stroke="#6e6e6e" stroke-width="0.85"/>
<circle cx="447.20" cy="116.01" r="2.05" fill="#c8c8c8" fill-opacity="0.45" stroke="#6e6e6e" stroke-width="0.85"/>
<circle cx="456.80" cy="115.67" r="2.05" fill="#c8c8c8" fill-opacity="0.45" stroke="#6e6e6e" stroke-width="0.85"/>
<circle cx="444.00" cy="115.17" r="2.05" fill="#c8c8c8" fill-opacity="0.45" stroke="#6e6e6e" stroke-width="0.85"/>
<circle cx="450.40" cy="114.32" r="2.05" fill="#c8c8c8" fill-opacity="0.45" stroke="#6e6e6e" stroke-width="0.85"/>
<circle cx="449.46" cy="113.98" r="2.05" fill="#c8c8c8" fill-opacity="0.45" stroke="#6e6e6e" stroke-width="0.85"/>
<circle cx="453.60" cy="113.47" r="2.05" fill="#c8c8c8" fill-opacity="0.45" stroke="#6e6e6e" stroke-width="0.85"/>
<circle cx="446.40" cy="112.63" r="2.05" fill="#c8c8c8" fill-opacity="0.45" stroke="#6e6e6e" stroke-width="0.85"/>
<circle cx="456.80" cy="112.29" r="2.05" fill="#c8c8c8" fill-opacity="0.45" stroke="#6e6e6e" stroke-width="0.85"/>
<circle cx="443.20" cy="111.78" r="2.05" fill="#c8c8c8" fill-opacity="0.45" stroke="#6e6e6e" stroke-width="0.85"/>
<circle cx="450.40" cy="110.93" r="2.05" fill="#c8c8c8" fill-opacity="0.45" stroke="#6e6e6e" stroke-width="0.85"/>
<circle cx="452.27" cy="110.59" r="2.05" fill="#c8c8c8" fill-opacity="0.45" stroke="#6e6e6e" stroke-width="0.85"/>
<circle cx="447.46" cy="110.09" r="2.05" fill="#c8c8c8" fill-opacity="0.45" stroke="#6e6e6e" stroke-width="0.85"/>
<circle cx="455.20" cy="109.24" r="2.05" fill="#c8c8c8" fill-opacity="0.45" stroke="#6e6e6e" stroke-width="0.85"/>
<circle cx="444.00" cy="108.90" r="2.05" fill="#c8c8c8" fill-opacity="0.45" stroke="#6e6e6e" stroke-width="0.85"/>
<circle cx="450.51" cy="108.39" r="2.05" fill="#c8c8c8" fill-opacity="0.45" stroke="#6e6e6e" stroke-width="0.85"/>
<circle cx="448.71" cy="107.55" r="2.05" fill="#c8c8c8" fill-opacity="0.45" stroke="#6e6e6e" stroke-width="0.85"/>
<circle cx="457.60" cy="107.21" r="2.05" fill="#c8c8c8" fill-opacity="0.45" stroke="#6e6e6e" stroke-width="0.85"/>
<circle cx="453.60" cy="106.70" r="2.05" fill="#c8c8c8" fill-opacity="0.45" stroke="#6e6e6e" stroke-width="0.85"/>
<circle cx="445.60" cy="105.85" r="2.05" fill="#c8c8c8" fill-opacity="0.45" stroke="#6e6e6e" stroke-width="0.85"/>
<circle cx="448.19" cy="105.51" r="2.05" fill="#c8c8c8" fill-opacity="0.45" stroke="#6e6e6e" stroke-width="0.85"/>
<circle cx="451.20" cy="104.16" r="2.05" fill="#c8c8c8" fill-opacity="0.45" stroke="#6e6e6e" stroke-width="0.85"/>
<circle cx="448.00" cy="102.47" r="2.05" fill="#c8c8c8" fill-opacity="0.45" stroke="#6e6e6e" stroke-width="0.85"/>
<circle cx="451.20" cy="100.77" r="2.05" fill="#c8c8c8" fill-opacity="0.45" stroke="#6e6e6e" stroke-width="0.85"/>
<circle cx="454.40" cy="99.93" r="2.05" fill="#c8c8c8" fill-opacity="0.45" stroke="#6e6e6e" stroke-width="0.85"/>
<circle cx="448.00" cy="99.08" r="2.05" fill="#c8c8c8" fill-opacity="0.45" stroke="#6e6e6e" stroke-width="0.85"/>
<circle cx="450.40" cy="94.85" r="2.05" fill="#c8c8c8" fill-opacity="0.45" stroke="#6e6e6e" stroke-width="0.85"/>
<circle cx="450.40" cy="91.80" r="2.05" fill="#c8c8c8" fill-opacity="0.45" stroke="#6e6e6e" stroke-width="0.85"/>
<circle cx="450.40" cy="87.57" r="2.05" fill="#c8c8c8" fill-opacity="0.45" stroke="#6e6e6e" stroke-width="0.85"/>
<circle cx="477.70" cy="116.01" r="2.05" fill="#c8c8c8" fill-opacity="0.45" stroke="#6e6e6e" stroke-width="0.85"/>
<circle cx="480.90" cy="114.32" r="2.05" fill="#c8c8c8" fill-opacity="0.45" stroke="#6e6e6e" stroke-width="0.85"/>
<circle cx="477.70" cy="112.63" r="2.05" fill="#c8c8c8" fill-opacity="0.45" stroke="#6e6e6e" stroke-width="0.85"/>
<circle cx="474.50" cy="111.78" r="2.05" fill="#c8c8c8" fill-opacity="0.45" stroke="#6e6e6e" stroke-width="0.85"/>
<circle cx="480.90" cy="110.93" r="2.05" fill="#c8c8c8" fill-opacity="0.45" stroke="#6e6e6e" stroke-width="0.85"/>
<circle cx="477.70" cy="109.24" r="2.05" fill="#c8c8c8" fill-opacity="0.45" stroke="#6e6e6e" stroke-width="0.85"/>
<circle cx="474.50" cy="108.39" r="2.05" fill="#c8c8c8" fill-opacity="0.45" stroke="#6e6e6e" stroke-width="0.85"/>
<circle cx="480.90" cy="107.55" r="2.05" fill="#c8c8c8" fill-opacity="0.45" stroke="#6e6e6e" stroke-width="0.85"/>
<circle cx="484.10" cy="106.70" r="2.05" fill="#c8c8c8" fill-opacity="0.45" stroke="#6e6e6e" stroke-width="0.85"/>
<circle cx="477.70" cy="105.85" r="2.05" fill="#c8c8c8" fill-opacity="0.45" stroke="#6e6e6e" stroke-width="0.85"/>
<circle cx="474.50" cy="105.01" r="2.05" fill="#c8c8c8" fill-opacity="0.45" stroke="#6e6e6e" stroke-width="0.85"/>
<circle cx="480.90" cy="104.16" r="2.05" fill="#c8c8c8" fill-opacity="0.45" stroke="#6e6e6e" stroke-width="0.85"/>
<circle cx="484.10" cy="103.31" r="2.05" fill="#c8c8c8" fill-opacity="0.45" stroke="#6e6e6e" stroke-width="0.85"/>
<circle cx="477.70" cy="102.47" r="2.05" fill="#c8c8c8" fill-opacity="0.45" stroke="#6e6e6e" stroke-width="0.85"/>
<circle cx="480.90" cy="100.77" r="2.05" fill="#c8c8c8" fill-opacity="0.45" stroke="#6e6e6e" stroke-width="0.85"/>
<circle cx="477.70" cy="99.08" r="2.05" fill="#c8c8c8" fill-opacity="0.45" stroke="#6e6e6e" stroke-width="0.85"/>
<circle cx="480.90" cy="97.39" r="2.05" fill="#c8c8c8" fill-opacity="0.45" stroke="#6e6e6e" stroke-width="0.85"/>
<circle cx="477.70" cy="95.69" r="2.05" fill="#c8c8c8" fill-opacity="0.45" stroke="#6e6e6e" stroke-width="0.85"/>
<circle cx="479.30" cy="93.15" r="2.05" fill="#c8c8c8" fill-opacity="0.45" stroke="#6e6e6e" stroke-width="0.85"/>
<circle cx="477.70" cy="88.92" r="2.05" fill="#c8c8c8" fill-opacity="0.45" stroke="#6e6e6e" stroke-width="0.85"/>
<circle cx="477.70" cy="77.07" r="2.05" fill="#c8c8c8" fill-opacity="0.45" stroke="#6e6e6e" stroke-width="0.85"/>
<circle cx="505.00" cy="117.71" r="2.05" fill="#c8c8c8" fill-opacity="0.45" stroke="#6e6e6e" stroke-width="0.85"/>
<circle cx="508.20" cy="116.01" r="2.05" fill="#c8c8c8" fill-opacity="0.45" stroke="#6e6e6e" stroke-width="0.85"/>
<circle cx="503.40" cy="115.17" r="2.05" fill="#c8c8c8" fill-opacity="0.45" stroke="#6e6e6e" stroke-width="0.85"/>
<circle cx="500.20" cy="114.32" r="2.05" fill="#c8c8c8" fill-opacity="0.45" stroke="#6e6e6e" stroke-width="0.85"/>
<circle cx="510.60" cy="113.98" r="2.05" fill="#c8c8c8" fill-opacity="0.45" stroke="#6e6e6e" stroke-width="0.85"/>
<circle cx="506.60" cy="113.47" r="2.05" fill="#c8c8c8" fill-opacity="0.45" stroke="#6e6e6e" stroke-width="0.85"/>
<circle cx="506.26" cy="112.63" r="2.05" fill="#c8c8c8" fill-opacity="0.45" stroke="#6e6e6e" stroke-width="0.85"/>
<circle cx="502.60" cy="112.29" r="2.05" fill="#c8c8c8" fill-opacity="0.45" stroke="#6e6e6e" stroke-width="0.85"/>
<circle cx="498.60" cy="111.78" r="2.05" fill="#c8c8c8" fill-opacity="0.45" stroke="#6e6e6e" stroke-width="0.85"/>
<circle cx="509.00" cy="110.93" r="2.05" fill="#c8c8c8" fill-opacity="0.45" stroke="#6e6e6e" stroke-width="0.85"/>
<circle cx="512.20" cy="110.59" r="2.05" fill="#c8c8c8" fill-opacity="0.45" stroke="#6e6e6e" stroke-width="0.85"/>
<circle cx="506.25" cy="110.09" r="2.05" fill="#c8c8c8" fill-opacity="0.45" stroke="#6e6e6e" stroke-width="0.85"/>
<circle cx="502.60" cy="109.24" r="2.05" fill="#c8c8c8" fill-opacity="0.45" stroke="#6e6e6e" stroke-width="0.85"/>
<circle cx="499.40" cy="108.90" r="2.05" fill="#c8c8c8" fill-opacity="0.45" stroke="#6e6e6e" stroke-width="0.85"/>
<circle cx="510.98" cy="108.39" r="2.05" fill="#c8c8c8" fill-opacity="0.45" stroke="#6e6e6e" stroke-width="0.85"/>
<circle cx="507.69" cy="107.55" r="2.05" fill="#c8c8c8" fill-opacity="0.45" stroke="#6e6e6e" stroke-width="0.85"/>
<circle cx="511.35" cy="107.21" r="2.05" fill="#c8c8c8" fill-opacity="0.45" stroke="#6e6e6e" stroke-width="0.85"/>
<circle cx="504.20" cy="106.70" r="2.05" fill="#c8c8c8" fill-opacity="0.45" stroke="#6e6e6e" stroke-width="0.85"/>
<circle cx="501.00" cy="105.85" r="2.05" fill="#c8c8c8" fill-opacity="0.45" stroke="#6e6e6e" stroke-width="0.85"/>
<circle cx="497.80" cy="105.01" r="2.05" fill="#c8c8c8" fill-opacity="0.45" stroke="#6e6e6e" stroke-width="0.85"/>
<circle cx="505.80" cy="104.16" r="2.05" fill="#c8c8c8" fill-opacity="0.45" stroke="#6e6e6e" stroke-width="0.85"/>
<circle cx="502.60" cy="103.31" r="2.05" fill="#c8c8c8" fill-opacity="0.45" stroke="#6e6e6e" stroke-width="0.85"/>
<circle cx="509.00" cy="102.47" r="2.05" fill="#c8c8c8" fill-opacity="0.45" stroke="#6e6e6e" stroke-width="0.85"/>
<circle cx="505.00" cy="100.77" r="2.05" fill="#c8c8c8" fill-opacity="0.45" stroke="#6e6e6e" stroke-width="0.85"/>
<circle cx="508.20" cy="99.08" r="2.05" fill="#c8c8c8" fill-opacity="0.45" stroke="#6e6e6e" stroke-width="0.85"/>
<circle cx="505.00" cy="97.39" r="2.05" fill="#c8c8c8" fill-opacity="0.45" stroke="#6e6e6e" stroke-width="0.85"/>
<circle cx="532.30" cy="114.32" r="2.05" fill="#c8c8c8" fill-opacity="0.45" stroke="#6e6e6e" stroke-width="0.85"/>
<circle cx="535.50" cy="112.63" r="2.05" fill="#c8c8c8" fill-opacity="0.45" stroke="#6e6e6e" stroke-width="0.85"/>
<circle cx="532.30" cy="110.93" r="2.05" fill="#c8c8c8" fill-opacity="0.45" stroke="#6e6e6e" stroke-width="0.85"/>
<circle cx="535.50" cy="109.24" r="2.05" fill="#c8c8c8" fill-opacity="0.45" stroke="#6e6e6e" stroke-width="0.85"/>
<circle cx="529.90" cy="108.73" r="2.05" fill="#c8c8c8" fill-opacity="0.45" stroke="#6e6e6e" stroke-width="0.85"/>
<circle cx="526.70" cy="107.89" r="2.05" fill="#c8c8c8" fill-opacity="0.45" stroke="#6e6e6e" stroke-width="0.85"/>
<circle cx="538.70" cy="107.55" r="2.05" fill="#c8c8c8" fill-opacity="0.45" stroke="#6e6e6e" stroke-width="0.85"/>
<circle cx="532.30" cy="106.87" r="2.05" fill="#c8c8c8" fill-opacity="0.45" stroke="#6e6e6e" stroke-width="0.85"/>
<circle cx="532.30" cy="94.00" r="2.05" fill="#c8c8c8" fill-opacity="0.45" stroke="#6e6e6e" stroke-width="0.85"/>
<rect x="415.00" y="102.81" width="16.4" height="16.59" fill="#dcdcdc" fill-opacity="0.55" stroke="#999" stroke-width="0.8"/>
<rect x="442.20" y="109.41" width="16.40" height="9.99" fill="#78b3e6" fill-opacity="0.85" stroke="#5f9cd6" stroke-width="0.8"/>
<rect x="469.50" y="106.36" width="16.40" height="13.04" fill="#f07474" fill-opacity="0.85" stroke="#d86262" stroke-width="0.8"/>
<rect x="496.80" y="109.92" width="16.40" height="9.48" fill="#78b3e6" fill-opacity="0.85" stroke="#5f9cd6" stroke-width="0.8"/>
<rect x="524.10" y="107.04" width="16.40" height="12.36" fill="#f07474" fill-opacity="0.85" stroke="#d86262" stroke-width="0.8"/>
<line x1="423.20" y1="75.71" x2="423.20" y2="112.63" stroke="#222" stroke-width="1.35"/>
<line x1="419.70" y1="75.71" x2="426.70" y2="75.71" stroke="#222" stroke-width="1.35"/>
<line x1="419.70" y1="112.63" x2="426.70" y2="112.63" stroke="#222" stroke-width="1.35"/>
<line x1="450.40" y1="98.74" x2="450.40" y2="113.98" stroke="#222" stroke-width="1.35"/>
<line x1="446.90" y1="98.74" x2="453.90" y2="98.74" stroke="#222" stroke-width="1.35"/>
<line x1="446.90" y1="113.98" x2="453.90" y2="113.98" stroke="#222" stroke-width="1.35"/>
<line x1="477.70" y1="98.23" x2="477.70" y2="112.63" stroke="#222" stroke-width="1.35"/>
<line x1="474.20" y1="98.23" x2="481.20" y2="98.23" stroke="#222" stroke-width="1.35"/>
<line x1="474.20" y1="112.63" x2="481.20" y2="112.63" stroke="#222" stroke-width="1.35"/>
<line x1="505.00" y1="105.01" x2="505.00" y2="113.98" stroke="#222" stroke-width="1.35"/>
<line x1="501.50" y1="105.01" x2="508.50" y2="105.01" stroke="#222" stroke-width="1.35"/>
<line x1="501.50" y1="113.98" x2="508.50" y2="113.98" stroke="#222" stroke-width="1.35"/>
<line x1="532.30" y1="103.82" x2="532.30" y2="111.95" stroke="#222" stroke-width="1.35"/>
<line x1="528.80" y1="103.82" x2="535.80" y2="103.82" stroke="#222" stroke-width="1.35"/>
<line x1="528.80" y1="111.95" x2="535.80" y2="111.95" stroke="#222" stroke-width="1.35"/>
<rect x="409.50" y="17.80" width="135.50" height="101.60" fill="none" stroke="#555" stroke-width="1.3"/>
<line x1="404.50" y1="119.40" x2="409.50" y2="119.40" stroke="#555" stroke-width="1.3"/>
<text x="402.50" y="123.40" font-size="11" text-anchor="end" fill="#222">0</text>
<line x1="404.50" y1="85.53" x2="409.50" y2="85.53" stroke="#555" stroke-width="1.3"/>
<text x="402.50" y="89.53" font-size="11" text-anchor="end" fill="#222">20</text>
<line x1="404.50" y1="51.67" x2="409.50" y2="51.67" stroke="#555" stroke-width="1.3"/>
<text x="402.50" y="55.67" font-size="11" text-anchor="end" fill="#222">40</text>
<line x1="404.50" y1="17.80" x2="409.50" y2="17.80" stroke="#555" stroke-width="1.3"/>
<text x="402.50" y="21.80" font-size="11" text-anchor="end" fill="#222">60</text>
<line x1="423.20" y1="119.40" x2="423.20" y2="123.90" stroke="#555" stroke-width="1.3"/>
<line x1="450.40" y1="119.40" x2="450.40" y2="123.90" stroke="#555" stroke-width="1.3"/>
<line x1="477.70" y1="119.40" x2="477.70" y2="123.90" stroke="#555" stroke-width="1.3"/>
<line x1="505.00" y1="119.40" x2="505.00" y2="123.90" stroke="#555" stroke-width="1.3"/>
<line x1="532.30" y1="119.40" x2="532.30" y2="123.90" stroke="#555" stroke-width="1.3"/>
<text x="423.20" y="134.00" font-size="8.3" text-anchor="middle" fill="#222" textLength="12.0" lengthAdjust="spacingAndGlyphs">HC</text>
<text x="450.40" y="134.00" font-size="8.3" text-anchor="middle" fill="#222" textLength="15.2" lengthAdjust="spacingAndGlyphs">Rec</text>
<text x="477.70" y="134.00" font-size="8.3" text-anchor="middle" fill="#222" textLength="15.6" lengthAdjust="spacingAndGlyphs">Dec</text>
<text x="505.00" y="134.00" font-size="8.3" text-anchor="middle" fill="#222" textLength="15.2" lengthAdjust="spacingAndGlyphs">Rec</text>
<text x="532.30" y="134.00" font-size="8.3" text-anchor="middle" fill="#222" textLength="15.6" lengthAdjust="spacingAndGlyphs">Dec</text>
<line x1="441.50" y1="138.70" x2="485.00" y2="138.70" stroke="#222" stroke-width="1.0"/>
<line x1="495.40" y1="138.70" x2="540.40" y2="138.70" stroke="#222" stroke-width="1.0"/>
<text x="464.50" y="149.00" font-size="8.7" text-anchor="middle" fill="#222" textLength="38.5" lengthAdjust="spacingAndGlyphs">ICU d1-4</text>
<text x="518.50" y="149.00" font-size="8.7" text-anchor="middle" fill="#222" textLength="48" lengthAdjust="spacingAndGlyphs">ICU d10-14</text>
<path d="M422.70,30.70 L422.70,28.30 L506.70,28.30 L506.70,30.70" fill="none" stroke="#222" stroke-width="1.1"/>
<text x="450.20" y="37.00" font-size="7.2" text-anchor="start" fill="#222" textLength="27.2" lengthAdjust="spacingAndGlyphs"><tspan font-style="italic">p</tspan>=0.003</text>
<path d="M422.90,61.30 L422.90,58.90 L450.30,58.90 L450.30,61.30" fill="none" stroke="#222" stroke-width="1.1"/>
<text x="430.40" y="55.90" font-size="7.2" text-anchor="start" fill="#222" textLength="27.4" lengthAdjust="spacingAndGlyphs"><tspan font-style="italic">p</tspan>=0.040</text>
<text x="70.20" y="184.80" font-size="15.7" text-anchor="start" fill="#111" font-weight="bold">d</text>
<rect x="94.60" y="200.20" width="17.68" height="17.68" fill="#2752b0"/>
<text x="103.44" y="210.64" font-size="5.3" text-anchor="middle" fill="#ffffff">1.00</text>
<rect x="94.60" y="217.88" width="17.68" height="17.68" fill="#cbc7e8"/>
<text x="103.44" y="228.32" font-size="5.3" text-anchor="middle" fill="#3a3a3a">0.27</text>
<circle cx="103.44" cy="232.22" r="0.95" fill="#3a3a3a"/>
<rect x="112.28" y="217.88" width="17.68" height="17.68" fill="#2752b0"/>
<text x="121.12" y="228.32" font-size="5.3" text-anchor="middle" fill="#ffffff">1.00</text>
<rect x="94.60" y="235.56" width="17.68" height="17.68" fill="#c6c2e6"/>
<text x="103.44" y="246.00" font-size="5.3" text-anchor="middle" fill="#3a3a3a">0.29</text>
<circle cx="101.74" cy="249.90" r="0.95" fill="#3a3a3a"/>
<circle cx="105.14" cy="249.90" r="0.95" fill="#3a3a3a"/>
<rect x="112.28" y="235.56" width="17.68" height="17.68" fill="#b4b0de"/>
<text x="121.12" y="246.00" font-size="5.3" text-anchor="middle" fill="#3a3a3a">0.36</text>
<circle cx="119.42" cy="249.90" r="0.95" fill="#3a3a3a"/>
<circle cx="122.82" cy="249.90" r="0.95" fill="#3a3a3a"/>
<rect x="129.96" y="235.56" width="17.68" height="17.68" fill="#2752b0"/>
<text x="138.80" y="246.00" font-size="5.3" text-anchor="middle" fill="#ffffff">1.00</text>
<rect x="94.60" y="253.24" width="17.68" height="17.68" fill="#dfddf2"/>
<text x="103.44" y="263.68" font-size="5.3" text-anchor="middle" fill="#3a3a3a">0.18</text>
<rect x="112.28" y="253.24" width="17.68" height="17.68" fill="#5864bc"/>
<text x="121.12" y="263.68" font-size="5.3" text-anchor="middle" fill="#ffffff">0.65</text>
<circle cx="116.02" cy="267.58" r="0.95" fill="#ffffff"/>
<circle cx="119.42" cy="267.58" r="0.95" fill="#ffffff"/>
<circle cx="122.82" cy="267.58" r="0.95" fill="#ffffff"/>
<circle cx="126.22" cy="267.58" r="0.95" fill="#ffffff"/>
<rect x="129.96" y="253.24" width="17.68" height="17.68" fill="#d2ceeb"/>
<text x="138.80" y="263.68" font-size="5.3" text-anchor="middle" fill="#3a3a3a">0.24</text>
<rect x="147.64" y="253.24" width="17.68" height="17.68" fill="#2752b0"/>
<text x="156.48" y="263.68" font-size="5.3" text-anchor="middle" fill="#ffffff">1.00</text>
<rect x="94.60" y="270.92" width="17.68" height="17.68" fill="#fffdfd"/>
<text x="103.44" y="281.36" font-size="5.3" text-anchor="middle" fill="#3a3a3a">-0.01</text>
<rect x="112.28" y="270.92" width="17.68" height="17.68" fill="#fbd0d0"/>
<text x="121.12" y="281.36" font-size="5.3" text-anchor="middle" fill="#3a3a3a">-0.23</text>
<rect x="129.96" y="270.92" width="17.68" height="17.68" fill="#f8b4b4"/>
<text x="138.80" y="281.36" font-size="5.3" text-anchor="middle" fill="#3a3a3a">-0.32</text>
<circle cx="137.10" cy="285.26" r="0.95" fill="#3a3a3a"/>
<circle cx="140.50" cy="285.26" r="0.95" fill="#3a3a3a"/>
<rect x="147.64" y="270.92" width="17.68" height="17.68" fill="#f59090"/>
<text x="156.48" y="281.36" font-size="5.3" text-anchor="middle" fill="#3a3a3a">-0.44</text>
<circle cx="153.08" cy="285.26" r="0.95" fill="#3a3a3a"/>
<circle cx="156.48" cy="285.26" r="0.95" fill="#3a3a3a"/>
<circle cx="159.88" cy="285.26" r="0.95" fill="#3a3a3a"/>
<rect x="165.32" y="270.92" width="17.68" height="17.68" fill="#2752b0"/>
<text x="174.16" y="281.36" font-size="5.3" text-anchor="middle" fill="#ffffff">1.00</text>
<rect x="94.60" y="288.60" width="17.68" height="17.68" fill="#e6e4f5"/>
<text x="103.44" y="299.04" font-size="5.3" text-anchor="middle" fill="#3a3a3a">0.15</text>
<rect x="112.28" y="288.60" width="17.68" height="17.68" fill="#9594d2"/>
<text x="121.12" y="299.04" font-size="5.3" text-anchor="middle" fill="#3a3a3a">0.44</text>
<circle cx="117.72" cy="302.94" r="0.95" fill="#3a3a3a"/>
<circle cx="121.12" cy="302.94" r="0.95" fill="#3a3a3a"/>
<circle cx="124.52" cy="302.94" r="0.95" fill="#3a3a3a"/>
<rect x="129.96" y="288.60" width="17.68" height="17.68" fill="#bdb9e2"/>
<text x="138.80" y="299.04" font-size="5.3" text-anchor="middle" fill="#3a3a3a">0.33</text>
<circle cx="135.40" cy="302.94" r="0.95" fill="#3a3a3a"/>
<circle cx="138.80" cy="302.94" r="0.95" fill="#3a3a3a"/>
<circle cx="142.20" cy="302.94" r="0.95" fill="#3a3a3a"/>
<rect x="147.64" y="288.60" width="17.68" height="17.68" fill="#c4c0e5"/>
<text x="156.48" y="299.04" font-size="5.3" text-anchor="middle" fill="#3a3a3a">0.30</text>
<circle cx="156.48" cy="302.94" r="0.95" fill="#3a3a3a"/>
<rect x="165.32" y="288.60" width="17.68" height="17.68" fill="#fcdada"/>
<text x="174.16" y="299.04" font-size="5.3" text-anchor="middle" fill="#3a3a3a">-0.18</text>
<rect x="183.00" y="288.60" width="17.68" height="17.68" fill="#2752b0"/>
<text x="191.84" y="299.04" font-size="5.3" text-anchor="middle" fill="#ffffff">1.00</text>
<rect x="94.60" y="306.28" width="17.68" height="17.68" fill="#f7abab"/>
<text x="103.44" y="316.72" font-size="5.3" text-anchor="middle" fill="#3a3a3a">-0.35</text>
<circle cx="100.04" cy="320.62" r="0.95" fill="#3a3a3a"/>
<circle cx="103.44" cy="320.62" r="0.95" fill="#3a3a3a"/>
<circle cx="106.84" cy="320.62" r="0.95" fill="#3a3a3a"/>
<rect x="112.28" y="306.28" width="17.68" height="17.68" fill="#f48080"/>
<text x="121.12" y="316.72" font-size="5.3" text-anchor="middle" fill="#3a3a3a">-0.50</text>
<circle cx="116.02" cy="320.62" r="0.95" fill="#3a3a3a"/>
<circle cx="119.42" cy="320.62" r="0.95" fill="#3a3a3a"/>
<circle cx="122.82" cy="320.62" r="0.95" fill="#3a3a3a"/>
<circle cx="126.22" cy="320.62" r="0.95" fill="#3a3a3a"/>
<rect x="129.96" y="306.28" width="17.68" height="17.68" fill="#f36c6c"/>
<text x="138.80" y="316.72" font-size="5.3" text-anchor="middle" fill="#3a3a3a">-0.57</text>
<circle cx="133.70" cy="320.62" r="0.95" fill="#3a3a3a"/>
<circle cx="137.10" cy="320.62" r="0.95" fill="#3a3a3a"/>
<circle cx="140.50" cy="320.62" r="0.95" fill="#3a3a3a"/>
<circle cx="143.90" cy="320.62" r="0.95" fill="#3a3a3a"/>
<rect x="147.64" y="306.28" width="17.68" height="17.68" fill="#f48080"/>
<text x="156.48" y="316.72" font-size="5.3" text-anchor="middle" fill="#3a3a3a">-0.50</text>
<circle cx="151.38" cy="320.62" r="0.95" fill="#3a3a3a"/>
<circle cx="154.78" cy="320.62" r="0.95" fill="#3a3a3a"/>
<circle cx="158.18" cy="320.62" r="0.95" fill="#3a3a3a"/>
<circle cx="161.58" cy="320.62" r="0.95" fill="#3a3a3a"/>
<rect x="165.32" y="306.28" width="17.68" height="17.68" fill="#eeedf8"/>
<text x="174.16" y="316.72" font-size="5.3" text-anchor="middle" fill="#3a3a3a">0.10</text>
<rect x="183.00" y="306.28" width="17.68" height="17.68" fill="#fef7f7"/>
<text x="191.84" y="316.72" font-size="5.3" text-anchor="middle" fill="#3a3a3a">-0.04</text>
<rect x="200.68" y="306.28" width="17.68" height="17.68" fill="#2752b0"/>
<text x="209.52" y="316.72" font-size="5.3" text-anchor="middle" fill="#ffffff">1.00</text>
<rect x="94.60" y="323.96" width="17.68" height="17.68" fill="#bab6e1"/>
<text x="103.44" y="334.40" font-size="5.3" text-anchor="middle" fill="#3a3a3a">0.34</text>
<circle cx="100.04" cy="338.30" r="0.95" fill="#3a3a3a"/>
<circle cx="103.44" cy="338.30" r="0.95" fill="#3a3a3a"/>
<circle cx="106.84" cy="338.30" r="0.95" fill="#3a3a3a"/>
<rect x="112.28" y="323.96" width="17.68" height="17.68" fill="#c2bee4"/>
<text x="121.12" y="334.40" font-size="5.3" text-anchor="middle" fill="#3a3a3a">0.31</text>
<circle cx="121.12" cy="338.30" r="0.95" fill="#3a3a3a"/>
<rect x="129.96" y="323.96" width="17.68" height="17.68" fill="#898acd"/>
<text x="138.80" y="334.40" font-size="5.3" text-anchor="middle" fill="#3a3a3a">0.48</text>
<circle cx="133.70" cy="338.30" r="0.95" fill="#3a3a3a"/>
<circle cx="137.10" cy="338.30" r="0.95" fill="#3a3a3a"/>
<circle cx="140.50" cy="338.30" r="0.95" fill="#3a3a3a"/>
<circle cx="143.90" cy="338.30" r="0.95" fill="#3a3a3a"/>
<rect x="147.64" y="323.96" width="17.68" height="17.68" fill="#d9d6ee"/>
<text x="156.48" y="334.40" font-size="5.3" text-anchor="middle" fill="#3a3a3a">0.21</text>
<rect x="165.32" y="323.96" width="17.68" height="17.68" fill="#fafafd"/>
<text x="174.16" y="334.40" font-size="5.3" text-anchor="middle" fill="#3a3a3a">0.03</text>
<rect x="183.00" y="323.96" width="17.68" height="17.68" fill="#feefef"/>
<text x="191.84" y="334.40" font-size="5.3" text-anchor="middle" fill="#3a3a3a">-0.08</text>
<rect x="200.68" y="323.96" width="17.68" height="17.68" fill="#fa2828"/>
<text x="209.52" y="334.40" font-size="5.3" text-anchor="middle" fill="#7a1010">-0.88</text>
<circle cx="204.42" cy="338.30" r="0.95" fill="#7a1010"/>
<circle cx="207.82" cy="338.30" r="0.95" fill="#7a1010"/>
<circle cx="211.22" cy="338.30" r="0.95" fill="#7a1010"/>
<circle cx="214.62" cy="338.30" r="0.95" fill="#7a1010"/>
<rect x="218.36" y="323.96" width="17.68" height="17.68" fill="#2752b0"/>
<text x="227.20" y="334.40" font-size="5.3" text-anchor="middle" fill="#ffffff">1.00</text>
<rect x="94.60" y="341.64" width="17.68" height="17.68" fill="#fef3f3"/>
<text x="103.44" y="352.08" font-size="5.3" text-anchor="middle" fill="#3a3a3a">-0.06</text>
<rect x="112.28" y="341.64" width="17.68" height="17.68" fill="#fcdede"/>
<text x="121.12" y="352.08" font-size="5.3" text-anchor="middle" fill="#3a3a3a">-0.16</text>
<rect x="129.96" y="341.64" width="17.68" height="17.68" fill="#a4a2d8"/>
<text x="138.80" y="352.08" font-size="5.3" text-anchor="middle" fill="#3a3a3a">0.54</text>
<circle cx="135.40" cy="355.98" r="0.95" fill="#3a3a3a"/>
<circle cx="138.80" cy="355.98" r="0.95" fill="#3a3a3a"/>
<circle cx="142.20" cy="355.98" r="0.95" fill="#3a3a3a"/>
<rect x="147.64" y="341.64" width="17.68" height="17.68" fill="#fdeded"/>
<text x="156.48" y="352.08" font-size="5.3" text-anchor="middle" fill="#3a3a3a">-0.09</text>
<rect x="165.32" y="341.64" width="17.68" height="17.68" fill="#f8aeae"/>
<text x="174.16" y="352.08" font-size="5.3" text-anchor="middle" fill="#3a3a3a">-0.34</text>
<circle cx="170.76" cy="355.98" r="0.95" fill="#3a3a3a"/>
<circle cx="174.16" cy="355.98" r="0.95" fill="#3a3a3a"/>
<circle cx="177.56" cy="355.98" r="0.95" fill="#3a3a3a"/>
<rect x="183.00" y="341.64" width="17.68" height="17.68" fill="#f2f1fa"/>
<text x="191.84" y="352.08" font-size="5.3" text-anchor="middle" fill="#3a3a3a">0.08</text>
<rect x="200.68" y="341.64" width="17.68" height="17.68" fill="#fcdada"/>
<text x="209.52" y="352.08" font-size="5.3" text-anchor="middle" fill="#3a3a3a">-0.18</text>
<rect x="218.36" y="341.64" width="17.68" height="17.68" fill="#dfddf2"/>
<text x="227.20" y="352.08" font-size="5.3" text-anchor="middle" fill="#3a3a3a">0.18</text>
<rect x="236.04" y="341.64" width="17.68" height="17.68" fill="#2752b0"/>
<text x="244.88" y="352.08" font-size="5.3" text-anchor="middle" fill="#ffffff">1.00</text>
<rect x="94.60" y="359.32" width="17.68" height="17.68" fill="#9594d2"/>
<text x="103.44" y="369.76" font-size="5.3" text-anchor="middle" fill="#3a3a3a">0.44</text>
<circle cx="101.74" cy="373.66" r="0.95" fill="#3a3a3a"/>
<circle cx="105.14" cy="373.66" r="0.95" fill="#3a3a3a"/>
<rect x="112.28" y="359.32" width="17.68" height="17.68" fill="#e8e6f6"/>
<text x="121.12" y="369.76" font-size="5.3" text-anchor="middle" fill="#3a3a3a">0.14</text>
<rect x="129.96" y="359.32" width="17.68" height="17.68" fill="#b4b0de"/>
<text x="138.80" y="369.76" font-size="5.3" text-anchor="middle" fill="#3a3a3a">0.36</text>
<circle cx="138.80" cy="373.66" r="0.95" fill="#3a3a3a"/>
<rect x="147.64" y="359.32" width="17.68" height="17.68" fill="#fcfbfe"/>
<text x="156.48" y="369.76" font-size="5.3" text-anchor="middle" fill="#3a3a3a">0.02</text>
<rect x="165.32" y="359.32" width="17.68" height="17.68" fill="#d4d1ec"/>
<text x="174.16" y="369.76" font-size="5.3" text-anchor="middle" fill="#3a3a3a">0.23</text>
<rect x="183.00" y="359.32" width="17.68" height="17.68" fill="#fcd6d6"/>
<text x="191.84" y="369.76" font-size="5.3" text-anchor="middle" fill="#3a3a3a">-0.20</text>
<rect x="200.68" y="359.32" width="17.68" height="17.68" fill="#f59393"/>
<text x="209.52" y="369.76" font-size="5.3" text-anchor="middle" fill="#3a3a3a">-0.43</text>
<circle cx="207.82" cy="373.66" r="0.95" fill="#3a3a3a"/>
<circle cx="211.22" cy="373.66" r="0.95" fill="#3a3a3a"/>
<rect x="218.36" y="359.32" width="17.68" height="17.68" fill="#6d74c3"/>
<text x="227.20" y="369.76" font-size="5.3" text-anchor="middle" fill="#ffffff">0.58</text>
<circle cx="222.10" cy="373.66" r="0.95" fill="#ffffff"/>
<circle cx="225.50" cy="373.66" r="0.95" fill="#ffffff"/>
<circle cx="228.90" cy="373.66" r="0.95" fill="#ffffff"/>
<circle cx="232.30" cy="373.66" r="0.95" fill="#ffffff"/>
<rect x="236.04" y="359.32" width="17.68" height="17.68" fill="#cecae9"/>
<text x="244.88" y="369.76" font-size="5.3" text-anchor="middle" fill="#3a3a3a">0.26</text>
<rect x="253.72" y="359.32" width="17.68" height="17.68" fill="#2752b0"/>
<text x="262.56" y="369.76" font-size="5.3" text-anchor="middle" fill="#ffffff">1.00</text>
<rect x="94.60" y="377.00" width="17.68" height="17.68" fill="#fef3f3"/>
<text x="103.44" y="387.44" font-size="5.3" text-anchor="middle" fill="#3a3a3a">-0.06</text>
<rect x="112.28" y="377.00" width="17.68" height="17.68" fill="#fcd8d8"/>
<text x="121.12" y="387.44" font-size="5.3" text-anchor="middle" fill="#3a3a3a">-0.19</text>
<rect x="129.96" y="377.00" width="17.68" height="17.68" fill="#dfddf2"/>
<text x="138.80" y="387.44" font-size="5.3" text-anchor="middle" fill="#3a3a3a">0.18</text>
<rect x="147.64" y="377.00" width="17.68" height="17.68" fill="#fce0e0"/>
<text x="156.48" y="387.44" font-size="5.3" text-anchor="middle" fill="#3a3a3a">-0.15</text>
<rect x="165.32" y="377.00" width="17.68" height="17.68" fill="#e8e6f6"/>
<text x="174.16" y="387.44" font-size="5.3" text-anchor="middle" fill="#3a3a3a">0.14</text>
<rect x="183.00" y="377.00" width="17.68" height="17.68" fill="#fde6e6"/>
<text x="191.84" y="387.44" font-size="5.3" text-anchor="middle" fill="#3a3a3a">-0.12</text>
<rect x="200.68" y="377.00" width="17.68" height="17.68" fill="#fcdada"/>
<text x="209.52" y="387.44" font-size="5.3" text-anchor="middle" fill="#3a3a3a">-0.18</text>
<rect x="218.36" y="377.00" width="17.68" height="17.68" fill="#e2dff3"/>
<text x="227.20" y="387.44" font-size="5.3" text-anchor="middle" fill="#3a3a3a">0.17</text>
<rect x="236.04" y="377.00" width="17.68" height="17.68" fill="#f3f2fa"/>
<text x="244.88" y="387.44" font-size="5.3" text-anchor="middle" fill="#3a3a3a">0.07</text>
<rect x="253.72" y="377.00" width="17.68" height="17.68" fill="#fffdfd"/>
<text x="262.56" y="387.44" font-size="5.3" text-anchor="middle" fill="#3a3a3a">-0.01</text>
<rect x="271.40" y="377.00" width="17.68" height="17.68" fill="#2752b0"/>
<text x="280.24" y="387.44" font-size="5.3" text-anchor="middle" fill="#ffffff">1.00</text>
<rect x="94.60" y="394.68" width="17.68" height="17.68" fill="#ebe9f7"/>
<text x="103.44" y="405.12" font-size="5.3" text-anchor="middle" fill="#3a3a3a">0.12</text>
<rect x="112.28" y="394.68" width="17.68" height="17.68" fill="#ffffff"/>
<text x="121.12" y="405.12" font-size="5.3" text-anchor="middle" fill="#3a3a3a">0.00</text>
<rect x="129.96" y="394.68" width="17.68" height="17.68" fill="#fdebeb"/>
<text x="138.80" y="405.12" font-size="5.3" text-anchor="middle" fill="#3a3a3a">-0.10</text>
<rect x="147.64" y="394.68" width="17.68" height="17.68" fill="#fdfdfe"/>
<text x="156.48" y="405.12" font-size="5.3" text-anchor="middle" fill="#3a3a3a">0.01</text>
<rect x="165.32" y="394.68" width="17.68" height="17.68" fill="#d9d6ee"/>
<text x="174.16" y="405.12" font-size="5.3" text-anchor="middle" fill="#3a3a3a">0.21</text>
<rect x="183.00" y="394.68" width="17.68" height="17.68" fill="#fdebeb"/>
<text x="191.84" y="405.12" font-size="5.3" text-anchor="middle" fill="#3a3a3a">-0.10</text>
<rect x="200.68" y="394.68" width="17.68" height="17.68" fill="#fef3f3"/>
<text x="209.52" y="405.12" font-size="5.3" text-anchor="middle" fill="#3a3a3a">-0.06</text>
<rect x="218.36" y="394.68" width="17.68" height="17.68" fill="#e9e8f6"/>
<text x="227.20" y="405.12" font-size="5.3" text-anchor="middle" fill="#3a3a3a">0.13</text>
<rect x="236.04" y="394.68" width="17.68" height="17.68" fill="#fbd2d2"/>
<text x="244.88" y="405.12" font-size="5.3" text-anchor="middle" fill="#3a3a3a">-0.22</text>
<rect x="253.72" y="394.68" width="17.68" height="17.68" fill="#acaadb"/>
<text x="262.56" y="405.12" font-size="5.3" text-anchor="middle" fill="#3a3a3a">0.38</text>
<circle cx="262.56" cy="409.02" r="0.95" fill="#3a3a3a"/>
<rect x="271.40" y="394.68" width="17.68" height="17.68" fill="#fdfdfe"/>
<text x="280.24" y="405.12" font-size="5.3" text-anchor="middle" fill="#3a3a3a">0.01</text>
<rect x="289.08" y="394.68" width="17.68" height="17.68" fill="#2752b0"/>
<text x="297.92" y="405.12" font-size="5.3" text-anchor="middle" fill="#ffffff">1.00</text>
<rect x="94.60" y="412.36" width="17.68" height="17.68" fill="#d9d6ee"/>
<text x="103.44" y="422.80" font-size="5.3" text-anchor="middle" fill="#3a3a3a">0.21</text>
<circle cx="103.44" cy="426.70" r="0.95" fill="#3a3a3a"/>
<rect x="112.28" y="412.36" width="17.68" height="17.68" fill="#dfddf2"/>
<text x="121.12" y="422.80" font-size="5.3" text-anchor="middle" fill="#3a3a3a">0.18</text>
<rect x="129.96" y="412.36" width="17.68" height="17.68" fill="#8e8fcf"/>
<text x="138.80" y="422.80" font-size="5.3" text-anchor="middle" fill="#3a3a3a">0.46</text>
<circle cx="133.70" cy="426.70" r="0.95" fill="#3a3a3a"/>
<circle cx="137.10" cy="426.70" r="0.95" fill="#3a3a3a"/>
<circle cx="140.50" cy="426.70" r="0.95" fill="#3a3a3a"/>
<circle cx="143.90" cy="426.70" r="0.95" fill="#3a3a3a"/>
<rect x="147.64" y="412.36" width="17.68" height="17.68" fill="#eeedf8"/>
<text x="156.48" y="422.80" font-size="5.3" text-anchor="middle" fill="#3a3a3a">0.10</text>
<rect x="165.32" y="412.36" width="17.68" height="17.68" fill="#fde6e6"/>
<text x="174.16" y="422.80" font-size="5.3" text-anchor="middle" fill="#3a3a3a">-0.12</text>
<rect x="183.00" y="412.36" width="17.68" height="17.68" fill="#f5f4fb"/>
<text x="191.84" y="422.80" font-size="5.3" text-anchor="middle" fill="#3a3a3a">0.06</text>
<rect x="200.68" y="412.36" width="17.68" height="17.68" fill="#fef3f3"/>
<text x="209.52" y="422.80" font-size="5.3" text-anchor="middle" fill="#3a3a3a">-0.06</text>
<rect x="218.36" y="412.36" width="17.68" height="17.68" fill="#fafafd"/>
<text x="227.20" y="422.80" font-size="5.3" text-anchor="middle" fill="#3a3a3a">0.03</text>
<rect x="236.04" y="412.36" width="17.68" height="17.68" fill="#e8e6f6"/>
<text x="244.88" y="422.80" font-size="5.3" text-anchor="middle" fill="#3a3a3a">0.14</text>
<rect x="253.72" y="412.36" width="17.68" height="17.68" fill="#fef1f1"/>
<text x="262.56" y="422.80" font-size="5.3" text-anchor="middle" fill="#3a3a3a">-0.07</text>
<rect x="271.40" y="412.36" width="17.68" height="17.68" fill="#d4d1ec"/>
<text x="280.24" y="422.80" font-size="5.3" text-anchor="middle" fill="#3a3a3a">0.23</text>
<rect x="289.08" y="412.36" width="17.68" height="17.68" fill="#fde9e9"/>
<text x="297.92" y="422.80" font-size="5.3" text-anchor="middle" fill="#3a3a3a">-0.11</text>
<rect x="306.76" y="412.36" width="17.68" height="17.68" fill="#2752b0"/>
<text x="315.60" y="422.80" font-size="5.3" text-anchor="middle" fill="#ffffff">1.00</text>
<rect x="94.60" y="430.04" width="17.68" height="17.68" fill="#c6c2e6"/>
<text x="103.44" y="440.48" font-size="5.3" text-anchor="middle" fill="#3a3a3a">0.29</text>
<circle cx="103.44" cy="444.38" r="0.95" fill="#3a3a3a"/>
<rect x="112.28" y="430.04" width="17.68" height="17.68" fill="#d7d3ed"/>
<text x="121.12" y="440.48" font-size="5.3" text-anchor="middle" fill="#3a3a3a">0.22</text>
<rect x="129.96" y="430.04" width="17.68" height="17.68" fill="#fef5f5"/>
<text x="138.80" y="440.48" font-size="5.3" text-anchor="middle" fill="#3a3a3a">-0.05</text>
<rect x="147.64" y="430.04" width="17.68" height="17.68" fill="#e4e2f4"/>
<text x="156.48" y="440.48" font-size="5.3" text-anchor="middle" fill="#3a3a3a">0.16</text>
<rect x="165.32" y="430.04" width="17.68" height="17.68" fill="#d2ceeb"/>
<text x="174.16" y="440.48" font-size="5.3" text-anchor="middle" fill="#3a3a3a">0.24</text>
<rect x="183.00" y="430.04" width="17.68" height="17.68" fill="#fef7f7"/>
<text x="191.84" y="440.48" font-size="5.3" text-anchor="middle" fill="#3a3a3a">-0.04</text>
<rect x="200.68" y="430.04" width="17.68" height="17.68" fill="#f9c0c0"/>
<text x="209.52" y="440.48" font-size="5.3" text-anchor="middle" fill="#3a3a3a">-0.28</text>
<rect x="218.36" y="430.04" width="17.68" height="17.68" fill="#d7d3ed"/>
<text x="227.20" y="440.48" font-size="5.3" text-anchor="middle" fill="#3a3a3a">0.22</text>
<rect x="236.04" y="430.04" width="17.68" height="17.68" fill="#f8aeae"/>
<text x="244.88" y="440.48" font-size="5.3" text-anchor="middle" fill="#3a3a3a">-0.34</text>
<circle cx="244.88" cy="444.38" r="0.95" fill="#3a3a3a"/>
<rect x="253.72" y="430.04" width="17.68" height="17.68" fill="#fffdfd"/>
<text x="262.56" y="440.48" font-size="5.3" text-anchor="middle" fill="#3a3a3a">-0.01</text>
<rect x="271.40" y="430.04" width="17.68" height="17.68" fill="#e6e4f5"/>
<text x="280.24" y="440.48" font-size="5.3" text-anchor="middle" fill="#3a3a3a">0.15</text>
<rect x="289.08" y="430.04" width="17.68" height="17.68" fill="#767ac6"/>
<text x="297.92" y="440.48" font-size="5.3" text-anchor="middle" fill="#ffffff">0.55</text>
<circle cx="292.82" cy="444.38" r="0.95" fill="#ffffff"/>
<circle cx="296.22" cy="444.38" r="0.95" fill="#ffffff"/>
<circle cx="299.62" cy="444.38" r="0.95" fill="#ffffff"/>
<circle cx="303.02" cy="444.38" r="0.95" fill="#ffffff"/>
<rect x="306.76" y="430.04" width="17.68" height="17.68" fill="#fffbfb"/>
<text x="315.60" y="440.48" font-size="5.3" text-anchor="middle" fill="#3a3a3a">-0.02</text>
<rect x="324.44" y="430.04" width="17.68" height="17.68" fill="#2752b0"/>
<text x="333.28" y="440.48" font-size="5.3" text-anchor="middle" fill="#ffffff">1.00</text>
<rect x="94.60" y="447.72" width="17.68" height="17.68" fill="#646dc0"/>
<text x="103.44" y="458.16" font-size="5.3" text-anchor="middle" fill="#ffffff">0.61</text>
<circle cx="103.44" cy="462.06" r="0.95" fill="#ffffff"/>
<rect x="112.28" y="447.72" width="17.68" height="17.68" fill="#edebf8"/>
<text x="121.12" y="458.16" font-size="5.3" text-anchor="middle" fill="#3a3a3a">0.11</text>
<rect x="129.96" y="447.72" width="17.68" height="17.68" fill="#f7f6fc"/>
<text x="138.80" y="458.16" font-size="5.3" text-anchor="middle" fill="#3a3a3a">0.05</text>
<rect x="147.64" y="447.72" width="17.68" height="17.68" fill="#fce0e0"/>
<text x="156.48" y="458.16" font-size="5.3" text-anchor="middle" fill="#3a3a3a">-0.15</text>
<rect x="165.32" y="447.72" width="17.68" height="17.68" fill="#d0ccea"/>
<text x="174.16" y="458.16" font-size="5.3" text-anchor="middle" fill="#3a3a3a">0.25</text>
<rect x="183.00" y="447.72" width="17.68" height="17.68" fill="#fcdcdc"/>
<text x="191.84" y="458.16" font-size="5.3" text-anchor="middle" fill="#3a3a3a">-0.17</text>
<rect x="200.68" y="447.72" width="17.68" height="17.68" fill="#fdebeb"/>
<text x="209.52" y="458.16" font-size="5.3" text-anchor="middle" fill="#3a3a3a">-0.10</text>
<rect x="218.36" y="447.72" width="17.68" height="17.68" fill="#bab6e1"/>
<text x="227.20" y="458.16" font-size="5.3" text-anchor="middle" fill="#3a3a3a">0.34</text>
<rect x="236.04" y="447.72" width="17.68" height="17.68" fill="#c6c2e6"/>
<text x="244.88" y="458.16" font-size="5.3" text-anchor="middle" fill="#3a3a3a">0.29</text>
<rect x="253.72" y="447.72" width="17.68" height="17.68" fill="#676fc1"/>
<text x="262.56" y="458.16" font-size="5.3" text-anchor="middle" fill="#ffffff">0.60</text>
<circle cx="262.56" cy="462.06" r="0.95" fill="#ffffff"/>
<rect x="271.40" y="447.72" width="17.68" height="17.68" fill="#fcdcdc"/>
<text x="280.24" y="458.16" font-size="5.3" text-anchor="middle" fill="#3a3a3a">-0.17</text>
<rect x="289.08" y="447.72" width="17.68" height="17.68" fill="#c2bee4"/>
<text x="297.92" y="458.16" font-size="5.3" text-anchor="middle" fill="#3a3a3a">0.31</text>
<rect x="306.76" y="447.72" width="17.68" height="17.68" fill="#fde6e6"/>
<text x="315.60" y="458.16" font-size="5.3" text-anchor="middle" fill="#3a3a3a">-0.12</text>
<rect x="324.44" y="447.72" width="17.68" height="17.68" fill="#fbcdcd"/>
<text x="333.28" y="458.16" font-size="5.3" text-anchor="middle" fill="#3a3a3a">-0.24</text>
<rect x="342.12" y="447.72" width="17.68" height="17.68" fill="#2752b0"/>
<text x="350.96" y="458.16" font-size="5.3" text-anchor="middle" fill="#ffffff">1.00</text>
<rect x="94.60" y="465.40" width="17.68" height="17.68" fill="#dbd8f0"/>
<text x="103.44" y="475.84" font-size="5.3" text-anchor="middle" fill="#3a3a3a">0.20</text>
<circle cx="103.44" cy="479.74" r="0.95" fill="#3a3a3a"/>
<rect x="112.28" y="465.40" width="17.68" height="17.68" fill="#e2dff3"/>
<text x="121.12" y="475.84" font-size="5.3" text-anchor="middle" fill="#3a3a3a">0.17</text>
<rect x="129.96" y="465.40" width="17.68" height="17.68" fill="#c9c5e7"/>
<text x="138.80" y="475.84" font-size="5.3" text-anchor="middle" fill="#3a3a3a">0.28</text>
<circle cx="137.10" cy="479.74" r="0.95" fill="#3a3a3a"/>
<circle cx="140.50" cy="479.74" r="0.95" fill="#3a3a3a"/>
<rect x="147.64" y="465.40" width="17.68" height="17.68" fill="#e8e6f6"/>
<text x="156.48" y="475.84" font-size="5.3" text-anchor="middle" fill="#3a3a3a">0.14</text>
<rect x="165.32" y="465.40" width="17.68" height="17.68" fill="#e2dff3"/>
<text x="174.16" y="475.84" font-size="5.3" text-anchor="middle" fill="#3a3a3a">0.17</text>
<rect x="183.00" y="465.40" width="17.68" height="17.68" fill="#fdfdfe"/>
<text x="191.84" y="475.84" font-size="5.3" text-anchor="middle" fill="#3a3a3a">0.01</text>
<rect x="200.68" y="465.40" width="17.68" height="17.68" fill="#f8b4b4"/>
<text x="209.52" y="475.84" font-size="5.3" text-anchor="middle" fill="#3a3a3a">-0.32</text>
<circle cx="207.82" cy="479.74" r="0.95" fill="#3a3a3a"/>
<circle cx="211.22" cy="479.74" r="0.95" fill="#3a3a3a"/>
<rect x="218.36" y="465.40" width="17.68" height="17.68" fill="#c6c2e6"/>
<text x="227.20" y="475.84" font-size="5.3" text-anchor="middle" fill="#3a3a3a">0.29</text>
<circle cx="225.50" cy="479.74" r="0.95" fill="#3a3a3a"/>
<circle cx="228.90" cy="479.74" r="0.95" fill="#3a3a3a"/>
<rect x="236.04" y="465.40" width="17.68" height="17.68" fill="#fde2e2"/>
<text x="244.88" y="475.84" font-size="5.3" text-anchor="middle" fill="#3a3a3a">-0.14</text>
<rect x="253.72" y="465.40" width="17.68" height="17.68" fill="#c6c2e6"/>
<text x="262.56" y="475.84" font-size="5.3" text-anchor="middle" fill="#3a3a3a">0.29</text>
<rect x="271.40" y="465.40" width="17.68" height="17.68" fill="#dbd8f0"/>
<text x="280.24" y="475.84" font-size="5.3" text-anchor="middle" fill="#3a3a3a">0.20</text>
<rect x="289.08" y="465.40" width="17.68" height="17.68" fill="#d7d3ed"/>
<text x="297.92" y="475.84" font-size="5.3" text-anchor="middle" fill="#3a3a3a">0.22</text>
<circle cx="297.92" cy="479.74" r="0.95" fill="#3a3a3a"/>
<rect x="306.76" y="465.40" width="17.68" height="17.68" fill="#ffffff"/>
<text x="315.60" y="475.84" font-size="5.3" text-anchor="middle" fill="#3a3a3a">-0.00</text>
<rect x="324.44" y="465.40" width="17.68" height="17.68" fill="#a19fd6"/>
<text x="333.28" y="475.84" font-size="5.3" text-anchor="middle" fill="#3a3a3a">0.41</text>
<circle cx="331.58" cy="479.74" r="0.95" fill="#3a3a3a"/>
<circle cx="334.98" cy="479.74" r="0.95" fill="#3a3a3a"/>
<rect x="342.12" y="465.40" width="17.68" height="17.68" fill="#fffbfb"/>
<text x="350.96" y="475.84" font-size="5.3" text-anchor="middle" fill="#3a3a3a">-0.02</text>
<rect x="359.80" y="465.40" width="17.68" height="17.68" fill="#2752b0"/>
<text x="368.64" y="475.84" font-size="5.3" text-anchor="middle" fill="#ffffff">1.00</text>
<rect x="94.60" y="483.08" width="17.68" height="17.68" fill="#8183ca"/>
<text x="103.44" y="493.52" font-size="5.3" text-anchor="middle" fill="#ffffff">0.51</text>
<circle cx="101.74" cy="497.42" r="0.95" fill="#ffffff"/>
<circle cx="105.14" cy="497.42" r="0.95" fill="#ffffff"/>
<rect x="112.28" y="483.08" width="17.68" height="17.68" fill="#fdeded"/>
<text x="121.12" y="493.52" font-size="5.3" text-anchor="middle" fill="#3a3a3a">-0.09</text>
<rect x="129.96" y="483.08" width="17.68" height="17.68" fill="#dbd8f0"/>
<text x="138.80" y="493.52" font-size="5.3" text-anchor="middle" fill="#3a3a3a">0.20</text>
<rect x="147.64" y="483.08" width="17.68" height="17.68" fill="#e9e8f6"/>
<text x="156.48" y="493.52" font-size="5.3" text-anchor="middle" fill="#3a3a3a">0.13</text>
<rect x="165.32" y="483.08" width="17.68" height="17.68" fill="#f2f1fa"/>
<text x="174.16" y="493.52" font-size="5.3" text-anchor="middle" fill="#3a3a3a">0.08</text>
<rect x="183.00" y="483.08" width="17.68" height="17.68" fill="#fef9f9"/>
<text x="191.84" y="493.52" font-size="5.3" text-anchor="middle" fill="#3a3a3a">-0.03</text>
<rect x="200.68" y="483.08" width="17.68" height="17.68" fill="#fbcdcd"/>
<text x="209.52" y="493.52" font-size="5.3" text-anchor="middle" fill="#3a3a3a">-0.24</text>
<rect x="218.36" y="483.08" width="17.68" height="17.68" fill="#fafafd"/>
<text x="227.20" y="493.52" font-size="5.3" text-anchor="middle" fill="#3a3a3a">0.03</text>
<rect x="236.04" y="483.08" width="17.68" height="17.68" fill="#fde2e2"/>
<text x="244.88" y="493.52" font-size="5.3" text-anchor="middle" fill="#3a3a3a">-0.14</text>
<rect x="253.72" y="483.08" width="17.68" height="17.68" fill="#fef1f1"/>
<text x="262.56" y="493.52" font-size="5.3" text-anchor="middle" fill="#3a3a3a">-0.07</text>
<rect x="271.40" y="483.08" width="17.68" height="17.68" fill="#edebf8"/>
<text x="280.24" y="493.52" font-size="5.3" text-anchor="middle" fill="#3a3a3a">0.11</text>
<rect x="289.08" y="483.08" width="17.68" height="17.68" fill="#7e81c9"/>
<text x="297.92" y="493.52" font-size="5.3" text-anchor="middle" fill="#ffffff">0.52</text>
<circle cx="296.22" cy="497.42" r="0.95" fill="#ffffff"/>
<circle cx="299.62" cy="497.42" r="0.95" fill="#ffffff"/>
<rect x="306.76" y="483.08" width="17.68" height="17.68" fill="#e9e8f6"/>
<text x="315.60" y="493.52" font-size="5.3" text-anchor="middle" fill="#3a3a3a">0.13</text>
<rect x="324.44" y="483.08" width="17.68" height="17.68" fill="#fde4e4"/>
<text x="333.28" y="493.52" font-size="5.3" text-anchor="middle" fill="#3a3a3a">-0.13</text>
<rect x="342.12" y="483.08" width="17.68" height="17.68" fill="#f69696"/>
<text x="350.96" y="493.52" font-size="5.3" text-anchor="middle" fill="#3a3a3a">-0.42</text>
<rect x="359.80" y="483.08" width="17.68" height="17.68" fill="#f8f8fc"/>
<text x="368.64" y="493.52" font-size="5.3" text-anchor="middle" fill="#3a3a3a">0.04</text>
<rect x="377.48" y="483.08" width="17.68" height="17.68" fill="#2752b0"/>
<text x="386.32" y="493.52" font-size="5.3" text-anchor="middle" fill="#ffffff">1.00</text>
<rect x="94.60" y="500.76" width="17.68" height="17.68" fill="#fce0e0"/>
<text x="103.44" y="511.20" font-size="5.3" text-anchor="middle" fill="#3a3a3a">-0.15</text>
<rect x="112.28" y="500.76" width="17.68" height="17.68" fill="#fef5f5"/>
<text x="121.12" y="511.20" font-size="5.3" text-anchor="middle" fill="#3a3a3a">-0.05</text>
<rect x="129.96" y="500.76" width="17.68" height="17.68" fill="#eeedf8"/>
<text x="138.80" y="511.20" font-size="5.3" text-anchor="middle" fill="#3a3a3a">0.10</text>
<rect x="147.64" y="500.76" width="17.68" height="17.68" fill="#e8e6f6"/>
<text x="156.48" y="511.20" font-size="5.3" text-anchor="middle" fill="#3a3a3a">0.14</text>
<rect x="165.32" y="500.76" width="17.68" height="17.68" fill="#fcdede"/>
<text x="174.16" y="511.20" font-size="5.3" text-anchor="middle" fill="#3a3a3a">-0.16</text>
<rect x="183.00" y="500.76" width="17.68" height="17.68" fill="#fef1f1"/>
<text x="191.84" y="511.20" font-size="5.3" text-anchor="middle" fill="#3a3a3a">-0.07</text>
<rect x="200.68" y="500.76" width="17.68" height="17.68" fill="#ffffff"/>
<text x="209.52" y="511.20" font-size="5.3" text-anchor="middle" fill="#3a3a3a">0.00</text>
<rect x="218.36" y="500.76" width="17.68" height="17.68" fill="#fffbfb"/>
<text x="227.20" y="511.20" font-size="5.3" text-anchor="middle" fill="#3a3a3a">-0.02</text>
<rect x="236.04" y="500.76" width="17.68" height="17.68" fill="#fafafd"/>
<text x="244.88" y="511.20" font-size="5.3" text-anchor="middle" fill="#3a3a3a">0.03</text>
<rect x="253.72" y="500.76" width="17.68" height="17.68" fill="#f7f6fc"/>
<text x="262.56" y="511.20" font-size="5.3" text-anchor="middle" fill="#3a3a3a">0.05</text>
<rect x="271.40" y="500.76" width="17.68" height="17.68" fill="#fef3f3"/>
<text x="280.24" y="511.20" font-size="5.3" text-anchor="middle" fill="#3a3a3a">-0.06</text>
<rect x="289.08" y="500.76" width="17.68" height="17.68" fill="#fef1f1"/>
<text x="297.92" y="511.20" font-size="5.3" text-anchor="middle" fill="#3a3a3a">-0.07</text>
<rect x="306.76" y="500.76" width="17.68" height="17.68" fill="#fcfbfe"/>
<text x="315.60" y="511.20" font-size="5.3" text-anchor="middle" fill="#3a3a3a">0.02</text>
<rect x="324.44" y="500.76" width="17.68" height="17.68" fill="#fef5f5"/>
<text x="333.28" y="511.20" font-size="5.3" text-anchor="middle" fill="#3a3a3a">-0.05</text>
<rect x="342.12" y="500.76" width="17.68" height="17.68" fill="#fcd6d6"/>
<text x="350.96" y="511.20" font-size="5.3" text-anchor="middle" fill="#3a3a3a">-0.20</text>
<rect x="359.80" y="500.76" width="17.68" height="17.68" fill="#fffdfd"/>
<text x="368.64" y="511.20" font-size="5.3" text-anchor="middle" fill="#3a3a3a">-0.01</text>
<rect x="377.48" y="500.76" width="17.68" height="17.68" fill="#fcdede"/>
<text x="386.32" y="511.20" font-size="5.3" text-anchor="middle" fill="#3a3a3a">-0.16</text>
<rect x="395.16" y="500.76" width="17.68" height="17.68" fill="#2752b0"/>
<text x="404.00" y="511.20" font-size="5.3" text-anchor="middle" fill="#ffffff">1.00</text>
<rect x="94.60" y="518.44" width="17.68" height="17.68" fill="#ebe9f7"/>
<text x="103.44" y="528.88" font-size="5.3" text-anchor="middle" fill="#3a3a3a">0.12</text>
<rect x="112.28" y="518.44" width="17.68" height="17.68" fill="#bab6e1"/>
<text x="121.12" y="528.88" font-size="5.3" text-anchor="middle" fill="#3a3a3a">0.34</text>
<circle cx="119.42" cy="532.78" r="0.95" fill="#3a3a3a"/>
<circle cx="122.82" cy="532.78" r="0.95" fill="#3a3a3a"/>
<rect x="129.96" y="518.44" width="17.68" height="17.68" fill="#fffbfb"/>
<text x="138.80" y="528.88" font-size="5.3" text-anchor="middle" fill="#3a3a3a">-0.02</text>
<rect x="147.64" y="518.44" width="17.68" height="17.68" fill="#e9e8f6"/>
<text x="156.48" y="528.88" font-size="5.3" text-anchor="middle" fill="#3a3a3a">0.13</text>
<rect x="165.32" y="518.44" width="17.68" height="17.68" fill="#fafafd"/>
<text x="174.16" y="528.88" font-size="5.3" text-anchor="middle" fill="#3a3a3a">0.03</text>
<rect x="183.00" y="518.44" width="17.68" height="17.68" fill="#e6e4f5"/>
<text x="191.84" y="528.88" font-size="5.3" text-anchor="middle" fill="#3a3a3a">0.15</text>
<rect x="200.68" y="518.44" width="17.68" height="17.68" fill="#fef7f7"/>
<text x="209.52" y="528.88" font-size="5.3" text-anchor="middle" fill="#3a3a3a">-0.04</text>
<rect x="218.36" y="518.44" width="17.68" height="17.68" fill="#fafafd"/>
<text x="227.20" y="528.88" font-size="5.3" text-anchor="middle" fill="#3a3a3a">0.03</text>
<rect x="236.04" y="518.44" width="17.68" height="17.68" fill="#fef1f1"/>
<text x="244.88" y="528.88" font-size="5.3" text-anchor="middle" fill="#3a3a3a">-0.07</text>
<rect x="253.72" y="518.44" width="17.68" height="17.68" fill="#acaadb"/>
<text x="262.56" y="528.88" font-size="5.3" text-anchor="middle" fill="#3a3a3a">0.38</text>
<circle cx="262.56" cy="532.78" r="0.95" fill="#3a3a3a"/>
<rect x="271.40" y="518.44" width="17.68" height="17.68" fill="#f9bdbd"/>
<text x="280.24" y="528.88" font-size="5.3" text-anchor="middle" fill="#3a3a3a">-0.29</text>
<rect x="289.08" y="518.44" width="17.68" height="17.68" fill="#e9e8f6"/>
<text x="297.92" y="528.88" font-size="5.3" text-anchor="middle" fill="#3a3a3a">0.13</text>
<rect x="306.76" y="518.44" width="17.68" height="17.68" fill="#fcdada"/>
<text x="315.60" y="528.88" font-size="5.3" text-anchor="middle" fill="#3a3a3a">-0.18</text>
<rect x="324.44" y="518.44" width="17.68" height="17.68" fill="#fde2e2"/>
<text x="333.28" y="528.88" font-size="5.3" text-anchor="middle" fill="#3a3a3a">-0.14</text>
<rect x="342.12" y="518.44" width="17.68" height="17.68" fill="#cecae9"/>
<text x="350.96" y="528.88" font-size="5.3" text-anchor="middle" fill="#3a3a3a">0.26</text>
<rect x="359.80" y="518.44" width="17.68" height="17.68" fill="#fef9f9"/>
<text x="368.64" y="528.88" font-size="5.3" text-anchor="middle" fill="#3a3a3a">-0.03</text>
<rect x="377.48" y="518.44" width="17.68" height="17.68" fill="#d7d3ed"/>
<text x="386.32" y="528.88" font-size="5.3" text-anchor="middle" fill="#3a3a3a">0.22</text>
<rect x="395.16" y="518.44" width="17.68" height="17.68" fill="#f3f2fa"/>
<text x="404.00" y="528.88" font-size="5.3" text-anchor="middle" fill="#3a3a3a">0.07</text>
<rect x="412.84" y="518.44" width="17.68" height="17.68" fill="#2752b0"/>
<text x="421.68" y="528.88" font-size="5.3" text-anchor="middle" fill="#ffffff">1.00</text>
<rect x="94.60" y="200.20" width="17.68" height="17.68" fill="none" stroke="#1c2030" stroke-width="0.9"/>
<rect x="94.60" y="217.88" width="17.68" height="17.68" fill="none" stroke="#1c2030" stroke-width="0.9"/>
<rect x="112.28" y="217.88" width="17.68" height="17.68" fill="none" stroke="#1c2030" stroke-width="0.9"/>
<rect x="94.60" y="235.56" width="17.68" height="17.68" fill="none" stroke="#1c2030" stroke-width="0.9"/>
<rect x="112.28" y="235.56" width="17.68" height="17.68" fill="none" stroke="#1c2030" stroke-width="0.9"/>
<rect x="129.96" y="235.56" width="17.68" height="17.68" fill="none" stroke="#1c2030" stroke-width="0.9"/>
<rect x="94.60" y="253.24" width="17.68" height="17.68" fill="none" stroke="#1c2030" stroke-width="0.9"/>
<rect x="112.28" y="253.24" width="17.68" height="17.68" fill="none" stroke="#1c2030" stroke-width="0.9"/>
<rect x="129.96" y="253.24" width="17.68" height="17.68" fill="none" stroke="#1c2030" stroke-width="0.9"/>
<rect x="147.64" y="253.24" width="17.68" height="17.68" fill="none" stroke="#1c2030" stroke-width="0.9"/>
<rect x="94.60" y="270.92" width="17.68" height="17.68" fill="none" stroke="#1c2030" stroke-width="0.9"/>
<rect x="112.28" y="270.92" width="17.68" height="17.68" fill="none" stroke="#1c2030" stroke-width="0.9"/>
<rect x="129.96" y="270.92" width="17.68" height="17.68" fill="none" stroke="#1c2030" stroke-width="0.9"/>
<rect x="147.64" y="270.92" width="17.68" height="17.68" fill="none" stroke="#1c2030" stroke-width="0.9"/>
<rect x="165.32" y="270.92" width="17.68" height="17.68" fill="none" stroke="#1c2030" stroke-width="0.9"/>
<rect x="94.60" y="288.60" width="17.68" height="17.68" fill="none" stroke="#1c2030" stroke-width="0.9"/>
<rect x="112.28" y="288.60" width="17.68" height="17.68" fill="none" stroke="#1c2030" stroke-width="0.9"/>
<rect x="129.96" y="288.60" width="17.68" height="17.68" fill="none" stroke="#1c2030" stroke-width="0.9"/>
<rect x="147.64" y="288.60" width="17.68" height="17.68" fill="none" stroke="#1c2030" stroke-width="0.9"/>
<rect x="165.32" y="288.60" width="17.68" height="17.68" fill="none" stroke="#1c2030" stroke-width="0.9"/>
<rect x="183.00" y="288.60" width="17.68" height="17.68" fill="none" stroke="#1c2030" stroke-width="0.9"/>
<rect x="94.60" y="306.28" width="17.68" height="17.68" fill="none" stroke="#1c2030" stroke-width="0.9"/>
<rect x="112.28" y="306.28" width="17.68" height="17.68" fill="none" stroke="#1c2030" stroke-width="0.9"/>
<rect x="129.96" y="306.28" width="17.68" height="17.68" fill="none" stroke="#1c2030" stroke-width="0.9"/>
<rect x="147.64" y="306.28" width="17.68" height="17.68" fill="none" stroke="#1c2030" stroke-width="0.9"/>
<rect x="165.32" y="306.28" width="17.68" height="17.68" fill="none" stroke="#1c2030" stroke-width="0.9"/>
<rect x="183.00" y="306.28" width="17.68" height="17.68" fill="none" stroke="#1c2030" stroke-width="0.9"/>
<rect x="200.68" y="306.28" width="17.68" height="17.68" fill="none" stroke="#1c2030" stroke-width="0.9"/>
<rect x="94.60" y="323.96" width="17.68" height="17.68" fill="none" stroke="#1c2030" stroke-width="0.9"/>
<rect x="112.28" y="323.96" width="17.68" height="17.68" fill="none" stroke="#1c2030" stroke-width="0.9"/>
<rect x="129.96" y="323.96" width="17.68" height="17.68" fill="none" stroke="#1c2030" stroke-width="0.9"/>
<rect x="147.64" y="323.96" width="17.68" height="17.68" fill="none" stroke="#1c2030" stroke-width="0.9"/>
<rect x="165.32" y="323.96" width="17.68" height="17.68" fill="none" stroke="#1c2030" stroke-width="0.9"/>
<rect x="183.00" y="323.96" width="17.68" height="17.68" fill="none" stroke="#1c2030" stroke-width="0.9"/>
<rect x="200.68" y="323.96" width="17.68" height="17.68" fill="none" stroke="#1c2030" stroke-width="0.9"/>
<rect x="218.36" y="323.96" width="17.68" height="17.68" fill="none" stroke="#1c2030" stroke-width="0.9"/>
<rect x="94.60" y="341.64" width="17.68" height="17.68" fill="none" stroke="#1c2030" stroke-width="0.9"/>
<rect x="112.28" y="341.64" width="17.68" height="17.68" fill="none" stroke="#1c2030" stroke-width="0.9"/>
<rect x="129.96" y="341.64" width="17.68" height="17.68" fill="none" stroke="#1c2030" stroke-width="0.9"/>
<rect x="147.64" y="341.64" width="17.68" height="17.68" fill="none" stroke="#1c2030" stroke-width="0.9"/>
<rect x="165.32" y="341.64" width="17.68" height="17.68" fill="none" stroke="#1c2030" stroke-width="0.9"/>
<rect x="183.00" y="341.64" width="17.68" height="17.68" fill="none" stroke="#1c2030" stroke-width="0.9"/>
<rect x="200.68" y="341.64" width="17.68" height="17.68" fill="none" stroke="#1c2030" stroke-width="0.9"/>
<rect x="218.36" y="341.64" width="17.68" height="17.68" fill="none" stroke="#1c2030" stroke-width="0.9"/>
<rect x="236.04" y="341.64" width="17.68" height="17.68" fill="none" stroke="#1c2030" stroke-width="0.9"/>
<rect x="94.60" y="359.32" width="17.68" height="17.68" fill="none" stroke="#1c2030" stroke-width="0.9"/>
<rect x="112.28" y="359.32" width="17.68" height="17.68" fill="none" stroke="#1c2030" stroke-width="0.9"/>
<rect x="129.96" y="359.32" width="17.68" height="17.68" fill="none" stroke="#1c2030" stroke-width="0.9"/>
<rect x="147.64" y="359.32" width="17.68" height="17.68" fill="none" stroke="#1c2030" stroke-width="0.9"/>
<rect x="165.32" y="359.32" width="17.68" height="17.68" fill="none" stroke="#1c2030" stroke-width="0.9"/>
<rect x="183.00" y="359.32" width="17.68" height="17.68" fill="none" stroke="#1c2030" stroke-width="0.9"/>
<rect x="200.68" y="359.32" width="17.68" height="17.68" fill="none" stroke="#1c2030" stroke-width="0.9"/>
<rect x="218.36" y="359.32" width="17.68" height="17.68" fill="none" stroke="#1c2030" stroke-width="0.9"/>
<rect x="236.04" y="359.32" width="17.68" height="17.68" fill="none" stroke="#1c2030" stroke-width="0.9"/>
<rect x="253.72" y="359.32" width="17.68" height="17.68" fill="none" stroke="#1c2030" stroke-width="0.9"/>
<rect x="94.60" y="377.00" width="17.68" height="17.68" fill="none" stroke="#1c2030" stroke-width="0.9"/>
<rect x="112.28" y="377.00" width="17.68" height="17.68" fill="none" stroke="#1c2030" stroke-width="0.9"/>
<rect x="129.96" y="377.00" width="17.68" height="17.68" fill="none" stroke="#1c2030" stroke-width="0.9"/>
<rect x="147.64" y="377.00" width="17.68" height="17.68" fill="none" stroke="#1c2030" stroke-width="0.9"/>
<rect x="165.32" y="377.00" width="17.68" height="17.68" fill="none" stroke="#1c2030" stroke-width="0.9"/>
<rect x="183.00" y="377.00" width="17.68" height="17.68" fill="none" stroke="#1c2030" stroke-width="0.9"/>
<rect x="200.68" y="377.00" width="17.68" height="17.68" fill="none" stroke="#1c2030" stroke-width="0.9"/>
<rect x="218.36" y="377.00" width="17.68" height="17.68" fill="none" stroke="#1c2030" stroke-width="0.9"/>
<rect x="236.04" y="377.00" width="17.68" height="17.68" fill="none" stroke="#1c2030" stroke-width="0.9"/>
<rect x="253.72" y="377.00" width="17.68" height="17.68" fill="none" stroke="#1c2030" stroke-width="0.9"/>
<rect x="271.40" y="377.00" width="17.68" height="17.68" fill="none" stroke="#1c2030" stroke-width="0.9"/>
<rect x="94.60" y="394.68" width="17.68" height="17.68" fill="none" stroke="#1c2030" stroke-width="0.9"/>
<rect x="112.28" y="394.68" width="17.68" height="17.68" fill="none" stroke="#1c2030" stroke-width="0.9"/>
<rect x="129.96" y="394.68" width="17.68" height="17.68" fill="none" stroke="#1c2030" stroke-width="0.9"/>
<rect x="147.64" y="394.68" width="17.68" height="17.68" fill="none" stroke="#1c2030" stroke-width="0.9"/>
<rect x="165.32" y="394.68" width="17.68" height="17.68" fill="none" stroke="#1c2030" stroke-width="0.9"/>
<rect x="183.00" y="394.68" width="17.68" height="17.68" fill="none" stroke="#1c2030" stroke-width="0.9"/>
<rect x="200.68" y="394.68" width="17.68" height="17.68" fill="none" stroke="#1c2030" stroke-width="0.9"/>
<rect x="218.36" y="394.68" width="17.68" height="17.68" fill="none" stroke="#1c2030" stroke-width="0.9"/>
<rect x="236.04" y="394.68" width="17.68" height="17.68" fill="none" stroke="#1c2030" stroke-width="0.9"/>
<rect x="253.72" y="394.68" width="17.68" height="17.68" fill="none" stroke="#1c2030" stroke-width="0.9"/>
<rect x="271.40" y="394.68" width="17.68" height="17.68" fill="none" stroke="#1c2030" stroke-width="0.9"/>
<rect x="289.08" y="394.68" width="17.68" height="17.68" fill="none" stroke="#1c2030" stroke-width="0.9"/>
<rect x="94.60" y="412.36" width="17.68" height="17.68" fill="none" stroke="#1c2030" stroke-width="0.9"/>
<rect x="112.28" y="412.36" width="17.68" height="17.68" fill="none" stroke="#1c2030" stroke-width="0.9"/>
<rect x="129.96" y="412.36" width="17.68" height="17.68" fill="none" stroke="#1c2030" stroke-width="0.9"/>
<rect x="147.64" y="412.36" width="17.68" height="17.68" fill="none" stroke="#1c2030" stroke-width="0.9"/>
<rect x="165.32" y="412.36" width="17.68" height="17.68" fill="none" stroke="#1c2030" stroke-width="0.9"/>
<rect x="183.00" y="412.36" width="17.68" height="17.68" fill="none" stroke="#1c2030" stroke-width="0.9"/>
<rect x="200.68" y="412.36" width="17.68" height="17.68" fill="none" stroke="#1c2030" stroke-width="0.9"/>
<rect x="218.36" y="412.36" width="17.68" height="17.68" fill="none" stroke="#1c2030" stroke-width="0.9"/>
<rect x="236.04" y="412.36" width="17.68" height="17.68" fill="none" stroke="#1c2030" stroke-width="0.9"/>
<rect x="253.72" y="412.36" width="17.68" height="17.68" fill="none" stroke="#1c2030" stroke-width="0.9"/>
<rect x="271.40" y="412.36" width="17.68" height="17.68" fill="none" stroke="#1c2030" stroke-width="0.9"/>
<rect x="289.08" y="412.36" width="17.68" height="17.68" fill="none" stroke="#1c2030" stroke-width="0.9"/>
<rect x="306.76" y="412.36" width="17.68" height="17.68" fill="none" stroke="#1c2030" stroke-width="0.9"/>
<rect x="94.60" y="430.04" width="17.68" height="17.68" fill="none" stroke="#1c2030" stroke-width="0.9"/>
<rect x="112.28" y="430.04" width="17.68" height="17.68" fill="none" stroke="#1c2030" stroke-width="0.9"/>
<rect x="129.96" y="430.04" width="17.68" height="17.68" fill="none" stroke="#1c2030" stroke-width="0.9"/>
<rect x="147.64" y="430.04" width="17.68" height="17.68" fill="none" stroke="#1c2030" stroke-width="0.9"/>
<rect x="165.32" y="430.04" width="17.68" height="17.68" fill="none" stroke="#1c2030" stroke-width="0.9"/>
<rect x="183.00" y="430.04" width="17.68" height="17.68" fill="none" stroke="#1c2030" stroke-width="0.9"/>
<rect x="200.68" y="430.04" width="17.68" height="17.68" fill="none" stroke="#1c2030" stroke-width="0.9"/>
<rect x="218.36" y="430.04" width="17.68" height="17.68" fill="none" stroke="#1c2030" stroke-width="0.9"/>
<rect x="236.04" y="430.04" width="17.68" height="17.68" fill="none" stroke="#1c2030" stroke-width="0.9"/>
<rect x="253.72" y="430.04" width="17.68" height="17.68" fill="none" stroke="#1c2030" stroke-width="0.9"/>
<rect x="271.40" y="430.04" width="17.68" height="17.68" fill="none" stroke="#1c2030" stroke-width="0.9"/>
<rect x="289.08" y="430.04" width="17.68" height="17.68" fill="none" stroke="#1c2030" stroke-width="0.9"/>
<rect x="306.76" y="430.04" width="17.68" height="17.68" fill="none" stroke="#1c2030" stroke-width="0.9"/>
<rect x="324.44" y="430.04" width="17.68" height="17.68" fill="none" stroke="#1c2030" stroke-width="0.9"/>
<rect x="94.60" y="447.72" width="17.68" height="17.68" fill="none" stroke="#1c2030" stroke-width="0.9"/>
<rect x="112.28" y="447.72" width="17.68" height="17.68" fill="none" stroke="#1c2030" stroke-width="0.9"/>
<rect x="129.96" y="447.72" width="17.68" height="17.68" fill="none" stroke="#1c2030" stroke-width="0.9"/>
<rect x="147.64" y="447.72" width="17.68" height="17.68" fill="none" stroke="#1c2030" stroke-width="0.9"/>
<rect x="165.32" y="447.72" width="17.68" height="17.68" fill="none" stroke="#1c2030" stroke-width="0.9"/>
<rect x="183.00" y="447.72" width="17.68" height="17.68" fill="none" stroke="#1c2030" stroke-width="0.9"/>
<rect x="200.68" y="447.72" width="17.68" height="17.68" fill="none" stroke="#1c2030" stroke-width="0.9"/>
<rect x="218.36" y="447.72" width="17.68" height="17.68" fill="none" stroke="#1c2030" stroke-width="0.9"/>
<rect x="236.04" y="447.72" width="17.68" height="17.68" fill="none" stroke="#1c2030" stroke-width="0.9"/>
<rect x="253.72" y="447.72" width="17.68" height="17.68" fill="none" stroke="#1c2030" stroke-width="0.9"/>
<rect x="271.40" y="447.72" width="17.68" height="17.68" fill="none" stroke="#1c2030" stroke-width="0.9"/>
<rect x="289.08" y="447.72" width="17.68" height="17.68" fill="none" stroke="#1c2030" stroke-width="0.9"/>
<rect x="306.76" y="447.72" width="17.68" height="17.68" fill="none" stroke="#1c2030" stroke-width="0.9"/>
<rect x="324.44" y="447.72" width="17.68" height="17.68" fill="none" stroke="#1c2030" stroke-width="0.9"/>
<rect x="342.12" y="447.72" width="17.68" height="17.68" fill="none" stroke="#1c2030" stroke-width="0.9"/>
<rect x="94.60" y="465.40" width="17.68" height="17.68" fill="none" stroke="#1c2030" stroke-width="0.9"/>
<rect x="112.28" y="465.40" width="17.68" height="17.68" fill="none" stroke="#1c2030" stroke-width="0.9"/>
<rect x="129.96" y="465.40" width="17.68" height="17.68" fill="none" stroke="#1c2030" stroke-width="0.9"/>
<rect x="147.64" y="465.40" width="17.68" height="17.68" fill="none" stroke="#1c2030" stroke-width="0.9"/>
<rect x="165.32" y="465.40" width="17.68" height="17.68" fill="none" stroke="#1c2030" stroke-width="0.9"/>
<rect x="183.00" y="465.40" width="17.68" height="17.68" fill="none" stroke="#1c2030" stroke-width="0.9"/>
<rect x="200.68" y="465.40" width="17.68" height="17.68" fill="none" stroke="#1c2030" stroke-width="0.9"/>
<rect x="218.36" y="465.40" width="17.68" height="17.68" fill="none" stroke="#1c2030" stroke-width="0.9"/>
<rect x="236.04" y="465.40" width="17.68" height="17.68" fill="none" stroke="#1c2030" stroke-width="0.9"/>
<rect x="253.72" y="465.40" width="17.68" height="17.68" fill="none" stroke="#1c2030" stroke-width="0.9"/>
<rect x="271.40" y="465.40" width="17.68" height="17.68" fill="none" stroke="#1c2030" stroke-width="0.9"/>
<rect x="289.08" y="465.40" width="17.68" height="17.68" fill="none" stroke="#1c2030" stroke-width="0.9"/>
<rect x="306.76" y="465.40" width="17.68" height="17.68" fill="none" stroke="#1c2030" stroke-width="0.9"/>
<rect x="324.44" y="465.40" width="17.68" height="17.68" fill="none" stroke="#1c2030" stroke-width="0.9"/>
<rect x="342.12" y="465.40" width="17.68" height="17.68" fill="none" stroke="#1c2030" stroke-width="0.9"/>
<rect x="359.80" y="465.40" width="17.68" height="17.68" fill="none" stroke="#1c2030" stroke-width="0.9"/>
<rect x="94.60" y="483.08" width="17.68" height="17.68" fill="none" stroke="#1c2030" stroke-width="0.9"/>
<rect x="112.28" y="483.08" width="17.68" height="17.68" fill="none" stroke="#1c2030" stroke-width="0.9"/>
<rect x="129.96" y="483.08" width="17.68" height="17.68" fill="none" stroke="#1c2030" stroke-width="0.9"/>
<rect x="147.64" y="483.08" width="17.68" height="17.68" fill="none" stroke="#1c2030" stroke-width="0.9"/>
<rect x="165.32" y="483.08" width="17.68" height="17.68" fill="none" stroke="#1c2030" stroke-width="0.9"/>
<rect x="183.00" y="483.08" width="17.68" height="17.68" fill="none" stroke="#1c2030" stroke-width="0.9"/>
<rect x="200.68" y="483.08" width="17.68" height="17.68" fill="none" stroke="#1c2030" stroke-width="0.9"/>
<rect x="218.36" y="483.08" width="17.68" height="17.68" fill="none" stroke="#1c2030" stroke-width="0.9"/>
<rect x="236.04" y="483.08" width="17.68" height="17.68" fill="none" stroke="#1c2030" stroke-width="0.9"/>
<rect x="253.72" y="483.08" width="17.68" height="17.68" fill="none" stroke="#1c2030" stroke-width="0.9"/>
<rect x="271.40" y="483.08" width="17.68" height="17.68" fill="none" stroke="#1c2030" stroke-width="0.9"/>
<rect x="289.08" y="483.08" width="17.68" height="17.68" fill="none" stroke="#1c2030" stroke-width="0.9"/>
<rect x="306.76" y="483.08" width="17.68" height="17.68" fill="none" stroke="#1c2030" stroke-width="0.9"/>
<rect x="324.44" y="483.08" width="17.68" height="17.68" fill="none" stroke="#1c2030" stroke-width="0.9"/>
<rect x="342.12" y="483.08" width="17.68" height="17.68" fill="none" stroke="#1c2030" stroke-width="0.9"/>
<rect x="359.80" y="483.08" width="17.68" height="17.68" fill="none" stroke="#1c2030" stroke-width="0.9"/>
<rect x="377.48" y="483.08" width="17.68" height="17.68" fill="none" stroke="#1c2030" stroke-width="0.9"/>
<rect x="94.60" y="500.76" width="17.68" height="17.68" fill="none" stroke="#1c2030" stroke-width="0.9"/>
<rect x="112.28" y="500.76" width="17.68" height="17.68" fill="none" stroke="#1c2030" stroke-width="0.9"/>
<rect x="129.96" y="500.76" width="17.68" height="17.68" fill="none" stroke="#1c2030" stroke-width="0.9"/>
<rect x="147.64" y="500.76" width="17.68" height="17.68" fill="none" stroke="#1c2030" stroke-width="0.9"/>
<rect x="165.32" y="500.76" width="17.68" height="17.68" fill="none" stroke="#1c2030" stroke-width="0.9"/>
<rect x="183.00" y="500.76" width="17.68" height="17.68" fill="none" stroke="#1c2030" stroke-width="0.9"/>
<rect x="200.68" y="500.76" width="17.68" height="17.68" fill="none" stroke="#1c2030" stroke-width="0.9"/>
<rect x="218.36" y="500.76" width="17.68" height="17.68" fill="none" stroke="#1c2030" stroke-width="0.9"/>
<rect x="236.04" y="500.76" width="17.68" height="17.68" fill="none" stroke="#1c2030" stroke-width="0.9"/>
<rect x="253.72" y="500.76" width="17.68" height="17.68" fill="none" stroke="#1c2030" stroke-width="0.9"/>
<rect x="271.40" y="500.76" width="17.68" height="17.68" fill="none" stroke="#1c2030" stroke-width="0.9"/>
<rect x="289.08" y="500.76" width="17.68" height="17.68" fill="none" stroke="#1c2030" stroke-width="0.9"/>
<rect x="306.76" y="500.76" width="17.68" height="17.68" fill="none" stroke="#1c2030" stroke-width="0.9"/>
<rect x="324.44" y="500.76" width="17.68" height="17.68" fill="none" stroke="#1c2030" stroke-width="0.9"/>
<rect x="342.12" y="500.76" width="17.68" height="17.68" fill="none" stroke="#1c2030" stroke-width="0.9"/>
<rect x="359.80" y="500.76" width="17.68" height="17.68" fill="none" stroke="#1c2030" stroke-width="0.9"/>
<rect x="377.48" y="500.76" width="17.68" height="17.68" fill="none" stroke="#1c2030" stroke-width="0.9"/>
<rect x="395.16" y="500.76" width="17.68" height="17.68" fill="none" stroke="#1c2030" stroke-width="0.9"/>
<rect x="94.60" y="518.44" width="17.68" height="17.68" fill="none" stroke="#1c2030" stroke-width="0.9"/>
<rect x="112.28" y="518.44" width="17.68" height="17.68" fill="none" stroke="#1c2030" stroke-width="0.9"/>
<rect x="129.96" y="518.44" width="17.68" height="17.68" fill="none" stroke="#1c2030" stroke-width="0.9"/>
<rect x="147.64" y="518.44" width="17.68" height="17.68" fill="none" stroke="#1c2030" stroke-width="0.9"/>
<rect x="165.32" y="518.44" width="17.68" height="17.68" fill="none" stroke="#1c2030" stroke-width="0.9"/>
<rect x="183.00" y="518.44" width="17.68" height="17.68" fill="none" stroke="#1c2030" stroke-width="0.9"/>
<rect x="200.68" y="518.44" width="17.68" height="17.68" fill="none" stroke="#1c2030" stroke-width="0.9"/>
<rect x="218.36" y="518.44" width="17.68" height="17.68" fill="none" stroke="#1c2030" stroke-width="0.9"/>
<rect x="236.04" y="518.44" width="17.68" height="17.68" fill="none" stroke="#1c2030" stroke-width="0.9"/>
<rect x="253.72" y="518.44" width="17.68" height="17.68" fill="none" stroke="#1c2030" stroke-width="0.9"/>
<rect x="271.40" y="518.44" width="17.68" height="17.68" fill="none" stroke="#1c2030" stroke-width="0.9"/>
<rect x="289.08" y="518.44" width="17.68" height="17.68" fill="none" stroke="#1c2030" stroke-width="0.9"/>
<rect x="306.76" y="518.44" width="17.68" height="17.68" fill="none" stroke="#1c2030" stroke-width="0.9"/>
<rect x="324.44" y="518.44" width="17.68" height="17.68" fill="none" stroke="#1c2030" stroke-width="0.9"/>
<rect x="342.12" y="518.44" width="17.68" height="17.68" fill="none" stroke="#1c2030" stroke-width="0.9"/>
<rect x="359.80" y="518.44" width="17.68" height="17.68" fill="none" stroke="#1c2030" stroke-width="0.9"/>
<rect x="377.48" y="518.44" width="17.68" height="17.68" fill="none" stroke="#1c2030" stroke-width="0.9"/>
<rect x="395.16" y="518.44" width="17.68" height="17.68" fill="none" stroke="#1c2030" stroke-width="0.9"/>
<rect x="412.84" y="518.44" width="17.68" height="17.68" fill="none" stroke="#1c2030" stroke-width="0.9"/>
<text x="90.40" y="211.44" font-size="9.0" text-anchor="end" fill="#222">ANGPT2</text>
<text x="106.64" y="196.70" font-size="9.0" text-anchor="start" fill="#222" transform="rotate(-90 106.64 196.70)">ANGPT2</text>
<text x="90.40" y="229.12" font-size="9.0" text-anchor="end" fill="#222">SAPS-3</text>
<text x="124.32" y="214.38" font-size="9.0" text-anchor="start" fill="#222" transform="rotate(-90 124.32 214.38)">SAPS-3</text>
<text x="90.40" y="246.80" font-size="9.0" text-anchor="end" fill="#222">SOFA score</text>
<text x="142.00" y="232.06" font-size="9.0" text-anchor="start" fill="#222" transform="rotate(-90 142.00 232.06)">SOFA score</text>
<text x="90.40" y="264.48" font-size="9.0" text-anchor="end" fill="#222">Age</text>
<text x="159.68" y="249.74" font-size="9.0" text-anchor="start" fill="#222" transform="rotate(-90 159.68 249.74)">Age</text>
<text x="90.40" y="282.16" font-size="9.0" text-anchor="end" fill="#222">PaO2/FiO2</text>
<text x="177.36" y="267.42" font-size="9.0" text-anchor="start" fill="#222" transform="rotate(-90 177.36 267.42)">PaO2/FiO2</text>
<text x="90.40" y="299.84" font-size="9.0" text-anchor="end" fill="#222">Troponin I</text>
<text x="195.04" y="285.10" font-size="9.0" text-anchor="start" fill="#222" transform="rotate(-90 195.04 285.10)">Troponin I</text>
<text x="90.40" y="317.52" font-size="9.0" text-anchor="end" fill="#222">eGFR[creatinine]</text>
<text x="212.72" y="302.78" font-size="9.0" text-anchor="start" fill="#222" transform="rotate(-90 212.72 302.78)">eGFR[creatinine]</text>
<text x="90.40" y="335.20" font-size="9.0" text-anchor="end" fill="#222">P-crea</text>
<text x="230.40" y="320.46" font-size="9.0" text-anchor="start" fill="#222" transform="rotate(-90 230.40 320.46)">P-crea</text>
<text x="90.40" y="352.88" font-size="9.0" text-anchor="end" fill="#222">CRP</text>
<text x="248.08" y="338.14" font-size="9.0" text-anchor="start" fill="#222" transform="rotate(-90 248.08 338.14)">CRP</text>
<text x="90.40" y="370.56" font-size="9.0" text-anchor="end" fill="#222">TNFa</text>
<text x="265.76" y="355.82" font-size="9.0" text-anchor="start" fill="#222" transform="rotate(-90 265.76 355.82)">TNFa</text>
<text x="90.40" y="388.24" font-size="9.0" text-anchor="end" fill="#222">IL6</text>
<text x="283.44" y="373.50" font-size="9.0" text-anchor="start" fill="#222" transform="rotate(-90 283.44 373.50)">IL6</text>
<text x="90.40" y="405.92" font-size="9.0" text-anchor="end" fill="#222">Platelets</text>
<text x="301.12" y="391.18" font-size="9.0" text-anchor="start" fill="#222" transform="rotate(-90 301.12 391.18)">Platelets</text>
<text x="90.40" y="423.60" font-size="9.0" text-anchor="end" fill="#222">D-dimer</text>
<text x="318.80" y="408.86" font-size="9.0" text-anchor="start" fill="#222" transform="rotate(-90 318.80 408.86)">D-dimer</text>
<text x="90.40" y="441.28" font-size="9.0" text-anchor="end" fill="#222">TEG MA</text>
<text x="336.48" y="426.54" font-size="9.0" text-anchor="start" fill="#222" transform="rotate(-90 336.48 426.54)">TEG MA</text>
<text x="90.40" y="458.96" font-size="9.0" text-anchor="end" fill="#222">Fibrinogen</text>
<text x="354.16" y="444.22" font-size="9.0" text-anchor="start" fill="#222" transform="rotate(-90 354.16 444.22)">Fibrinogen</text>
<text x="90.40" y="476.64" font-size="9.0" text-anchor="end" fill="#222">VWF</text>
<text x="371.84" y="461.90" font-size="9.0" text-anchor="start" fill="#222" transform="rotate(-90 371.84 461.90)">VWF</text>
<text x="90.40" y="494.32" font-size="9.0" text-anchor="end" fill="#222">TAT</text>
<text x="389.52" y="479.58" font-size="9.0" text-anchor="start" fill="#222" transform="rotate(-90 389.52 479.58)">TAT</text>
<text x="90.40" y="512.00" font-size="9.0" text-anchor="end" fill="#222">ANGPT1</text>
<text x="407.20" y="497.26" font-size="9.0" text-anchor="start" fill="#222" transform="rotate(-90 407.20 497.26)">ANGPT1</text>
<text x="90.40" y="529.68" font-size="9.0" text-anchor="end" fill="#222">ADAMTS13</text>
<text x="424.88" y="514.94" font-size="9.0" text-anchor="start" fill="#222" transform="rotate(-90 424.88 514.94)">ADAMTS13</text>
<defs><linearGradient id="lg" x1="0" x2="1" y1="0" y2="0"><stop offset="0" stop-color="#2b4aa6"/><stop offset="0.12" stop-color="#3d56ae"/><stop offset="0.25" stop-color="#9c9dd4"/><stop offset="0.4" stop-color="#dcdcf0"/><stop offset="0.5" stop-color="#ffffff"/><stop offset="0.6" stop-color="#ffe2e2"/><stop offset="0.75" stop-color="#ff9c9c"/><stop offset="0.9" stop-color="#ff4848"/><stop offset="1" stop-color="#ff1818"/></linearGradient></defs>
<rect x="348.0" y="364.6" width="82.90" height="15.0" fill="url(#lg)" stroke="#1a1a2a" stroke-width="1.0"/>
<text x="349.00" y="360.00" font-size="9.0" text-anchor="middle" fill="#222" textLength="10.6" lengthAdjust="spacingAndGlyphs">1.0</text>
<line x1="368.73" y1="364.60" x2="368.73" y2="366.60" stroke="#333" stroke-width="0.9"/>
<line x1="368.73" y1="377.60" x2="368.73" y2="379.60" stroke="#333" stroke-width="0.9"/>
<text x="369.50" y="360.00" font-size="9.0" text-anchor="middle" fill="#222" textLength="13.0" lengthAdjust="spacingAndGlyphs">0.5</text>
<line x1="389.45" y1="364.60" x2="389.45" y2="366.60" stroke="#333" stroke-width="0.9"/>
<line x1="389.45" y1="377.60" x2="389.45" y2="379.60" stroke="#333" stroke-width="0.9"/>
<text x="389.60" y="360.00" font-size="9.0" text-anchor="middle" fill="#222">0</text>
<line x1="410.17" y1="364.60" x2="410.17" y2="366.60" stroke="#333" stroke-width="0.9"/>
<line x1="410.17" y1="377.60" x2="410.17" y2="379.60" stroke="#333" stroke-width="0.9"/>
<text x="406.40" y="360.00" font-size="9.0" text-anchor="middle" fill="#222" textLength="15.6" lengthAdjust="spacingAndGlyphs">-0.5</text>
<text x="427.40" y="360.00" font-size="9.0" text-anchor="middle" fill="#222" textLength="15.6" lengthAdjust="spacingAndGlyphs">-1.0</text>
<text x="303.70" y="184.70" font-size="16.5" text-anchor="start" fill="#111" font-weight="bold">e</text>
<text x="382.70" y="177.80" font-size="11.2" text-anchor="middle" fill="#222" textLength="19.5" lengthAdjust="spacingAndGlyphs">AKI</text>
<text x="326.20" y="231.50" font-size="10.2" text-anchor="middle" fill="#222" textLength="79" lengthAdjust="spacingAndGlyphs" transform="rotate(-90 326.20 231.50)">ANGPT2 (ng/ml)</text>
<circle cx="366.10" cy="280.30" r="2.0" fill="#ffffff" fill-opacity="0.55" stroke="#777777" stroke-width="0.85"/>
<circle cx="370.10" cy="278.95" r="2.0" fill="#ffffff" fill-opacity="0.55" stroke="#777777" stroke-width="0.85"/>
<circle cx="363.70" cy="277.60" r="2.0" fill="#ffffff" fill-opacity="0.55" stroke="#777777" stroke-width="0.85"/>
<circle cx="367.70" cy="276.25" r="2.0" fill="#ffffff" fill-opacity="0.55" stroke="#777777" stroke-width="0.85"/>
<circle cx="371.70" cy="275.23" r="2.0" fill="#ffffff" fill-opacity="0.55" stroke="#777777" stroke-width="0.85"/>
<circle cx="362.10" cy="274.22" r="2.0" fill="#ffffff" fill-opacity="0.55" stroke="#777777" stroke-width="0.85"/>
<circle cx="358.10" cy="273.21" r="2.0" fill="#ffffff" fill-opacity="0.55" stroke="#777777" stroke-width="0.85"/>
<circle cx="366.10" cy="272.87" r="2.0" fill="#ffffff" fill-opacity="0.55" stroke="#777777" stroke-width="0.85"/>
<circle cx="374.10" cy="272.19" r="2.0" fill="#ffffff" fill-opacity="0.55" stroke="#777777" stroke-width="0.85"/>
<circle cx="369.30" cy="271.18" r="2.0" fill="#ffffff" fill-opacity="0.55" stroke="#777777" stroke-width="0.85"/>
<circle cx="363.70" cy="270.17" r="2.0" fill="#ffffff" fill-opacity="0.55" stroke="#777777" stroke-width="0.85"/>
<circle cx="359.70" cy="269.83" r="2.0" fill="#ffffff" fill-opacity="0.55" stroke="#777777" stroke-width="0.85"/>
<circle cx="372.52" cy="269.49" r="2.0" fill="#ffffff" fill-opacity="0.55" stroke="#777777" stroke-width="0.85"/>
<circle cx="374.94" cy="269.16" r="2.0" fill="#ffffff" fill-opacity="0.55" stroke="#777777" stroke-width="0.85"/>
<circle cx="369.18" cy="268.82" r="2.0" fill="#ffffff" fill-opacity="0.55" stroke="#777777" stroke-width="0.85"/>
<circle cx="360.04" cy="268.14" r="2.0" fill="#ffffff" fill-opacity="0.55" stroke="#777777" stroke-width="0.85"/>
<circle cx="372.59" cy="267.81" r="2.0" fill="#ffffff" fill-opacity="0.55" stroke="#777777" stroke-width="0.85"/>
<circle cx="366.10" cy="267.13" r="2.0" fill="#ffffff" fill-opacity="0.55" stroke="#777777" stroke-width="0.85"/>
<circle cx="374.46" cy="266.12" r="2.0" fill="#ffffff" fill-opacity="0.55" stroke="#777777" stroke-width="0.85"/>
<circle cx="368.50" cy="264.43" r="2.0" fill="#ffffff" fill-opacity="0.55" stroke="#777777" stroke-width="0.85"/>
<circle cx="363.70" cy="264.09" r="2.0" fill="#ffffff" fill-opacity="0.55" stroke="#777777" stroke-width="0.85"/>
<circle cx="371.70" cy="262.06" r="2.0" fill="#ffffff" fill-opacity="0.55" stroke="#777777" stroke-width="0.85"/>
<circle cx="366.10" cy="261.39" r="2.0" fill="#ffffff" fill-opacity="0.55" stroke="#777777" stroke-width="0.85"/>
<circle cx="362.10" cy="260.04" r="2.0" fill="#ffffff" fill-opacity="0.55" stroke="#777777" stroke-width="0.85"/>
<circle cx="368.50" cy="258.35" r="2.0" fill="#ffffff" fill-opacity="0.55" stroke="#777777" stroke-width="0.85"/>
<circle cx="372.50" cy="257.68" r="2.0" fill="#ffffff" fill-opacity="0.55" stroke="#777777" stroke-width="0.85"/>
<circle cx="366.10" cy="255.65" r="2.0" fill="#ffffff" fill-opacity="0.55" stroke="#777777" stroke-width="0.85"/>
<circle cx="370.10" cy="254.64" r="2.0" fill="#ffffff" fill-opacity="0.55" stroke="#777777" stroke-width="0.85"/>
<circle cx="362.90" cy="253.62" r="2.0" fill="#ffffff" fill-opacity="0.55" stroke="#777777" stroke-width="0.85"/>
<circle cx="400.10" cy="281.31" r="2.0" fill="#ffffff" fill-opacity="0.55" stroke="#777777" stroke-width="0.85"/>
<circle cx="403.30" cy="279.62" r="2.0" fill="#ffffff" fill-opacity="0.55" stroke="#777777" stroke-width="0.85"/>
<circle cx="398.50" cy="277.94" r="2.0" fill="#ffffff" fill-opacity="0.55" stroke="#777777" stroke-width="0.85"/>
<circle cx="401.70" cy="276.25" r="2.0" fill="#ffffff" fill-opacity="0.55" stroke="#777777" stroke-width="0.85"/>
<circle cx="395.30" cy="275.57" r="2.0" fill="#ffffff" fill-opacity="0.55" stroke="#777777" stroke-width="0.85"/>
<circle cx="404.90" cy="274.56" r="2.0" fill="#ffffff" fill-opacity="0.55" stroke="#777777" stroke-width="0.85"/>
<circle cx="400.10" cy="272.87" r="2.0" fill="#ffffff" fill-opacity="0.55" stroke="#777777" stroke-width="0.85"/>
<circle cx="393.70" cy="272.19" r="2.0" fill="#ffffff" fill-opacity="0.55" stroke="#777777" stroke-width="0.85"/>
<circle cx="407.30" cy="271.86" r="2.0" fill="#ffffff" fill-opacity="0.55" stroke="#777777" stroke-width="0.85"/>
<circle cx="403.30" cy="270.84" r="2.0" fill="#ffffff" fill-opacity="0.55" stroke="#777777" stroke-width="0.85"/>
<circle cx="398.50" cy="269.49" r="2.0" fill="#ffffff" fill-opacity="0.55" stroke="#777777" stroke-width="0.85"/>
<circle cx="392.10" cy="268.82" r="2.0" fill="#ffffff" fill-opacity="0.55" stroke="#777777" stroke-width="0.85"/>
<circle cx="408.90" cy="268.48" r="2.0" fill="#ffffff" fill-opacity="0.55" stroke="#777777" stroke-width="0.85"/>
<circle cx="401.70" cy="267.47" r="2.0" fill="#ffffff" fill-opacity="0.55" stroke="#777777" stroke-width="0.85"/>
<circle cx="396.90" cy="266.12" r="2.0" fill="#ffffff" fill-opacity="0.55" stroke="#777777" stroke-width="0.85"/>
<circle cx="404.90" cy="265.44" r="2.0" fill="#ffffff" fill-opacity="0.55" stroke="#777777" stroke-width="0.85"/>
<circle cx="392.90" cy="264.77" r="2.0" fill="#ffffff" fill-opacity="0.55" stroke="#777777" stroke-width="0.85"/>
<circle cx="400.10" cy="263.42" r="2.0" fill="#ffffff" fill-opacity="0.55" stroke="#777777" stroke-width="0.85"/>
<circle cx="407.30" cy="262.74" r="2.0" fill="#ffffff" fill-opacity="0.55" stroke="#777777" stroke-width="0.85"/>
<circle cx="396.10" cy="262.06" r="2.0" fill="#ffffff" fill-opacity="0.55" stroke="#777777" stroke-width="0.85"/>
<circle cx="402.50" cy="260.38" r="2.0" fill="#ffffff" fill-opacity="0.55" stroke="#777777" stroke-width="0.85"/>
<circle cx="398.50" cy="259.36" r="2.0" fill="#ffffff" fill-opacity="0.55" stroke="#777777" stroke-width="0.85"/>
<circle cx="404.90" cy="257.68" r="2.0" fill="#ffffff" fill-opacity="0.55" stroke="#777777" stroke-width="0.85"/>
<circle cx="400.10" cy="255.99" r="2.0" fill="#ffffff" fill-opacity="0.55" stroke="#777777" stroke-width="0.85"/>
<circle cx="400.10" cy="250.92" r="2.0" fill="#ffffff" fill-opacity="0.55" stroke="#777777" stroke-width="0.85"/>
<circle cx="403.30" cy="248.56" r="2.0" fill="#ffffff" fill-opacity="0.55" stroke="#777777" stroke-width="0.85"/>
<circle cx="400.10" cy="237.41" r="2.0" fill="#ffffff" fill-opacity="0.55" stroke="#777777" stroke-width="0.85"/>
<circle cx="401.70" cy="234.04" r="2.0" fill="#ffffff" fill-opacity="0.55" stroke="#777777" stroke-width="0.85"/>
<circle cx="400.10" cy="228.97" r="2.0" fill="#ffffff" fill-opacity="0.55" stroke="#777777" stroke-width="0.85"/>
<circle cx="402.50" cy="226.27" r="2.0" fill="#ffffff" fill-opacity="0.55" stroke="#777777" stroke-width="0.85"/>
<circle cx="400.10" cy="212.09" r="2.0" fill="#ffffff" fill-opacity="0.55" stroke="#777777" stroke-width="0.85"/>
<circle cx="403.30" cy="209.73" r="2.0" fill="#ffffff" fill-opacity="0.55" stroke="#777777" stroke-width="0.85"/>
<circle cx="400.10" cy="188.45" r="2.0" fill="#ffffff" fill-opacity="0.55" stroke="#777777" stroke-width="0.85"/>
<rect x="356.10" y="271.18" width="20.00" height="11.82" fill="#78b3e6" fill-opacity="0.85" stroke="#5f9cd6" stroke-width="0.8"/>
<rect x="390.10" y="264.77" width="20.00" height="18.23" fill="#f07474" fill-opacity="0.85" stroke="#d86262" stroke-width="0.8"/>
<line x1="366.10" y1="267.47" x2="366.10" y2="274.05" stroke="#222" stroke-width="1.35"/>
<line x1="362.60" y1="267.47" x2="369.60" y2="267.47" stroke="#222" stroke-width="1.35"/>
<line x1="362.60" y1="274.05" x2="369.60" y2="274.05" stroke="#222" stroke-width="1.35"/>
<line x1="400.10" y1="259.03" x2="400.10" y2="269.49" stroke="#222" stroke-width="1.35"/>
<line x1="396.60" y1="259.03" x2="403.60" y2="259.03" stroke="#222" stroke-width="1.35"/>
<line x1="396.60" y1="269.49" x2="403.60" y2="269.49" stroke="#222" stroke-width="1.35"/>
<rect x="349.20" y="181.70" width="67.80" height="101.30" fill="none" stroke="#555" stroke-width="1.3"/>
<line x1="344.20" y1="283.00" x2="349.20" y2="283.00" stroke="#555" stroke-width="1.3"/>
<text x="342.20" y="287.00" font-size="11" text-anchor="end" fill="#222">0</text>
<line x1="344.20" y1="249.23" x2="349.20" y2="249.23" stroke="#555" stroke-width="1.3"/>
<text x="342.20" y="253.23" font-size="11" text-anchor="end" fill="#222">10</text>
<line x1="344.20" y1="215.47" x2="349.20" y2="215.47" stroke="#555" stroke-width="1.3"/>
<text x="342.20" y="219.47" font-size="11" text-anchor="end" fill="#222">20</text>
<line x1="344.20" y1="181.70" x2="349.20" y2="181.70" stroke="#555" stroke-width="1.3"/>
<text x="342.20" y="185.70" font-size="11" text-anchor="end" fill="#222">30</text>
<line x1="366.10" y1="283.00" x2="366.10" y2="287.50" stroke="#555" stroke-width="1.3"/>
<line x1="400.10" y1="283.00" x2="400.10" y2="287.50" stroke="#555" stroke-width="1.3"/>
<text x="366.10" y="298.30" font-size="9.0" text-anchor="middle" fill="#222">No</text>
<text x="400.10" y="298.30" font-size="9.0" text-anchor="middle" fill="#222">Yes</text>
<path d="M366.50,218.40 L366.50,216.00 L400.40,216.00 L400.40,218.40" fill="none" stroke="#222" stroke-width="1.1"/>
<text x="367.70" y="214.00" font-size="7.2" text-anchor="start" fill="#222" textLength="27.7" lengthAdjust="spacingAndGlyphs"><tspan font-style="italic">p</tspan>=0.044</text>
<text x="434.00" y="184.80" font-size="16.5" text-anchor="start" fill="#111" font-weight="bold">f</text>
<text x="511.90" y="177.00" font-size="11.2" text-anchor="middle" fill="#222" textLength="45.4" lengthAdjust="spacingAndGlyphs">TEG MA</text>
<text x="454.50" y="230.30" font-size="10.2" text-anchor="middle" fill="#222" textLength="83" lengthAdjust="spacingAndGlyphs" transform="rotate(-90 454.50 230.30)">ANGPT2 (ng/ml)</text>
<circle cx="494.50" cy="279.65" r="2.0" fill="#ffffff" fill-opacity="0.55" stroke="#777777" stroke-width="0.85"/>
<circle cx="497.70" cy="278.02" r="2.0" fill="#ffffff" fill-opacity="0.55" stroke="#777777" stroke-width="0.85"/>
<circle cx="492.10" cy="276.80" r="2.0" fill="#ffffff" fill-opacity="0.55" stroke="#777777" stroke-width="0.85"/>
<circle cx="500.90" cy="275.58" r="2.0" fill="#ffffff" fill-opacity="0.55" stroke="#777777" stroke-width="0.85"/>
<circle cx="494.50" cy="273.95" r="2.0" fill="#ffffff" fill-opacity="0.55" stroke="#777777" stroke-width="0.85"/>
<circle cx="497.70" cy="272.32" r="2.0" fill="#ffffff" fill-opacity="0.55" stroke="#777777" stroke-width="0.85"/>
<circle cx="491.30" cy="271.51" r="2.0" fill="#ffffff" fill-opacity="0.55" stroke="#777777" stroke-width="0.85"/>
<circle cx="500.90" cy="270.70" r="2.0" fill="#ffffff" fill-opacity="0.55" stroke="#777777" stroke-width="0.85"/>
<circle cx="494.50" cy="269.07" r="2.0" fill="#ffffff" fill-opacity="0.55" stroke="#777777" stroke-width="0.85"/>
<circle cx="497.70" cy="267.44" r="2.0" fill="#ffffff" fill-opacity="0.55" stroke="#777777" stroke-width="0.85"/>
<circle cx="494.50" cy="261.34" r="2.0" fill="#ffffff" fill-opacity="0.55" stroke="#777777" stroke-width="0.85"/>
<circle cx="494.50" cy="242.22" r="2.0" fill="#ffffff" fill-opacity="0.55" stroke="#777777" stroke-width="0.85"/>
<circle cx="498.50" cy="242.22" r="2.0" fill="#ffffff" fill-opacity="0.55" stroke="#777777" stroke-width="0.85"/>
<circle cx="528.70" cy="280.87" r="2.0" fill="#ffffff" fill-opacity="0.55" stroke="#777777" stroke-width="0.85"/>
<circle cx="531.90" cy="278.83" r="2.0" fill="#ffffff" fill-opacity="0.55" stroke="#777777" stroke-width="0.85"/>
<circle cx="527.10" cy="277.61" r="2.0" fill="#ffffff" fill-opacity="0.55" stroke="#777777" stroke-width="0.85"/>
<circle cx="523.10" cy="276.39" r="2.0" fill="#ffffff" fill-opacity="0.55" stroke="#777777" stroke-width="0.85"/>
<circle cx="530.30" cy="275.58" r="2.0" fill="#ffffff" fill-opacity="0.55" stroke="#777777" stroke-width="0.85"/>
<circle cx="534.30" cy="274.76" r="2.0" fill="#ffffff" fill-opacity="0.55" stroke="#777777" stroke-width="0.85"/>
<circle cx="527.10" cy="273.54" r="2.0" fill="#ffffff" fill-opacity="0.55" stroke="#777777" stroke-width="0.85"/>
<circle cx="523.10" cy="272.32" r="2.0" fill="#ffffff" fill-opacity="0.55" stroke="#777777" stroke-width="0.85"/>
<circle cx="530.30" cy="271.51" r="2.0" fill="#ffffff" fill-opacity="0.55" stroke="#777777" stroke-width="0.85"/>
<circle cx="534.30" cy="270.70" r="2.0" fill="#ffffff" fill-opacity="0.55" stroke="#777777" stroke-width="0.85"/>
<circle cx="519.90" cy="270.29" r="2.0" fill="#ffffff" fill-opacity="0.55" stroke="#777777" stroke-width="0.85"/>
<circle cx="527.10" cy="269.48" r="2.0" fill="#ffffff" fill-opacity="0.55" stroke="#777777" stroke-width="0.85"/>
<circle cx="523.10" cy="268.26" r="2.0" fill="#ffffff" fill-opacity="0.55" stroke="#777777" stroke-width="0.85"/>
<circle cx="530.30" cy="267.44" r="2.0" fill="#ffffff" fill-opacity="0.55" stroke="#777777" stroke-width="0.85"/>
<circle cx="534.30" cy="266.63" r="2.0" fill="#ffffff" fill-opacity="0.55" stroke="#777777" stroke-width="0.85"/>
<circle cx="519.90" cy="266.22" r="2.0" fill="#ffffff" fill-opacity="0.55" stroke="#777777" stroke-width="0.85"/>
<circle cx="527.10" cy="265.41" r="2.0" fill="#ffffff" fill-opacity="0.55" stroke="#777777" stroke-width="0.85"/>
<circle cx="523.10" cy="264.19" r="2.0" fill="#ffffff" fill-opacity="0.55" stroke="#777777" stroke-width="0.85"/>
<circle cx="530.30" cy="263.37" r="2.0" fill="#ffffff" fill-opacity="0.55" stroke="#777777" stroke-width="0.85"/>
<circle cx="534.30" cy="262.56" r="2.0" fill="#ffffff" fill-opacity="0.55" stroke="#777777" stroke-width="0.85"/>
<circle cx="527.10" cy="261.34" r="2.0" fill="#ffffff" fill-opacity="0.55" stroke="#777777" stroke-width="0.85"/>
<circle cx="523.10" cy="260.53" r="2.0" fill="#ffffff" fill-opacity="0.55" stroke="#777777" stroke-width="0.85"/>
<circle cx="530.30" cy="259.71" r="2.0" fill="#ffffff" fill-opacity="0.55" stroke="#777777" stroke-width="0.85"/>
<circle cx="534.30" cy="258.49" r="2.0" fill="#ffffff" fill-opacity="0.55" stroke="#777777" stroke-width="0.85"/>
<circle cx="527.10" cy="257.27" r="2.0" fill="#ffffff" fill-opacity="0.55" stroke="#777777" stroke-width="0.85"/>
<circle cx="529.50" cy="254.42" r="2.0" fill="#ffffff" fill-opacity="0.55" stroke="#777777" stroke-width="0.85"/>
<circle cx="528.70" cy="250.36" r="2.0" fill="#ffffff" fill-opacity="0.55" stroke="#777777" stroke-width="0.85"/>
<circle cx="530.30" cy="247.10" r="2.0" fill="#ffffff" fill-opacity="0.55" stroke="#777777" stroke-width="0.85"/>
<circle cx="528.70" cy="241.81" r="2.0" fill="#ffffff" fill-opacity="0.55" stroke="#777777" stroke-width="0.85"/>
<circle cx="528.70" cy="234.08" r="2.0" fill="#ffffff" fill-opacity="0.55" stroke="#777777" stroke-width="0.85"/>
<circle cx="528.70" cy="227.17" r="2.0" fill="#ffffff" fill-opacity="0.55" stroke="#777777" stroke-width="0.85"/>
<circle cx="528.70" cy="216.59" r="2.0" fill="#ffffff" fill-opacity="0.55" stroke="#777777" stroke-width="0.85"/>
<circle cx="528.70" cy="196.66" r="2.0" fill="#ffffff" fill-opacity="0.55" stroke="#777777" stroke-width="0.85"/>
<circle cx="531.90" cy="194.22" r="2.0" fill="#ffffff" fill-opacity="0.55" stroke="#777777" stroke-width="0.85"/>
<rect x="484.30" y="270.49" width="20.60" height="12.41" fill="#78b3e6" fill-opacity="0.85" stroke="#5f9cd6" stroke-width="0.8"/>
<rect x="518.55" y="263.90" width="20.30" height="19.00" fill="#f07474" fill-opacity="0.85" stroke="#d86262" stroke-width="0.8"/>
<line x1="494.50" y1="265.41" x2="494.50" y2="274.97" stroke="#222" stroke-width="1.35"/>
<line x1="491.00" y1="265.41" x2="498.00" y2="265.41" stroke="#222" stroke-width="1.35"/>
<line x1="491.00" y1="274.97" x2="498.00" y2="274.97" stroke="#222" stroke-width="1.35"/>
<line x1="528.70" y1="257.68" x2="528.70" y2="267.85" stroke="#222" stroke-width="1.35"/>
<line x1="525.20" y1="257.68" x2="532.20" y2="257.68" stroke="#222" stroke-width="1.35"/>
<line x1="525.20" y1="267.85" x2="532.20" y2="267.85" stroke="#222" stroke-width="1.35"/>
<rect x="477.60" y="181.20" width="68.00" height="101.70" fill="none" stroke="#555" stroke-width="1.3"/>
<line x1="472.60" y1="282.90" x2="477.60" y2="282.90" stroke="#555" stroke-width="1.3"/>
<text x="470.60" y="286.90" font-size="11" text-anchor="end" fill="#222">0</text>
<line x1="472.60" y1="262.56" x2="477.60" y2="262.56" stroke="#555" stroke-width="1.3"/>
<text x="470.60" y="266.56" font-size="11" text-anchor="end" fill="#222">5</text>
<line x1="472.60" y1="242.22" x2="477.60" y2="242.22" stroke="#555" stroke-width="1.3"/>
<text x="470.60" y="246.22" font-size="11" text-anchor="end" fill="#222">10</text>
<line x1="472.60" y1="221.88" x2="477.60" y2="221.88" stroke="#555" stroke-width="1.3"/>
<text x="470.60" y="225.88" font-size="11" text-anchor="end" fill="#222">15</text>
<line x1="472.60" y1="201.54" x2="477.60" y2="201.54" stroke="#555" stroke-width="1.3"/>
<text x="470.60" y="205.54" font-size="11" text-anchor="end" fill="#222">20</text>
<line x1="472.60" y1="181.20" x2="477.60" y2="181.20" stroke="#555" stroke-width="1.3"/>
<text x="470.60" y="185.20" font-size="11" text-anchor="end" fill="#222">25</text>
<line x1="494.40" y1="282.90" x2="494.40" y2="287.40" stroke="#555" stroke-width="1.3"/>
<line x1="528.70" y1="282.90" x2="528.70" y2="287.40" stroke="#555" stroke-width="1.3"/>
<text x="494.60" y="297.40" font-size="8.8" text-anchor="middle" fill="#222" textLength="29.3" lengthAdjust="spacingAndGlyphs">&lt;69 mm</text>
<text x="528.60" y="297.40" font-size="8.8" text-anchor="middle" fill="#222" textLength="29.6" lengthAdjust="spacingAndGlyphs">&gt;69 mm</text>
<path d="M495.50,209.50 L495.50,207.10 L528.50,207.10 L528.50,209.50" fill="none" stroke="#222" stroke-width="1.1"/>
<text x="498.50" y="205.40" font-size="7.2" text-anchor="start" fill="#222" textLength="26.1" lengthAdjust="spacingAndGlyphs"><tspan font-style="italic">p</tspan>=0.034</text>
</svg></body></html>
